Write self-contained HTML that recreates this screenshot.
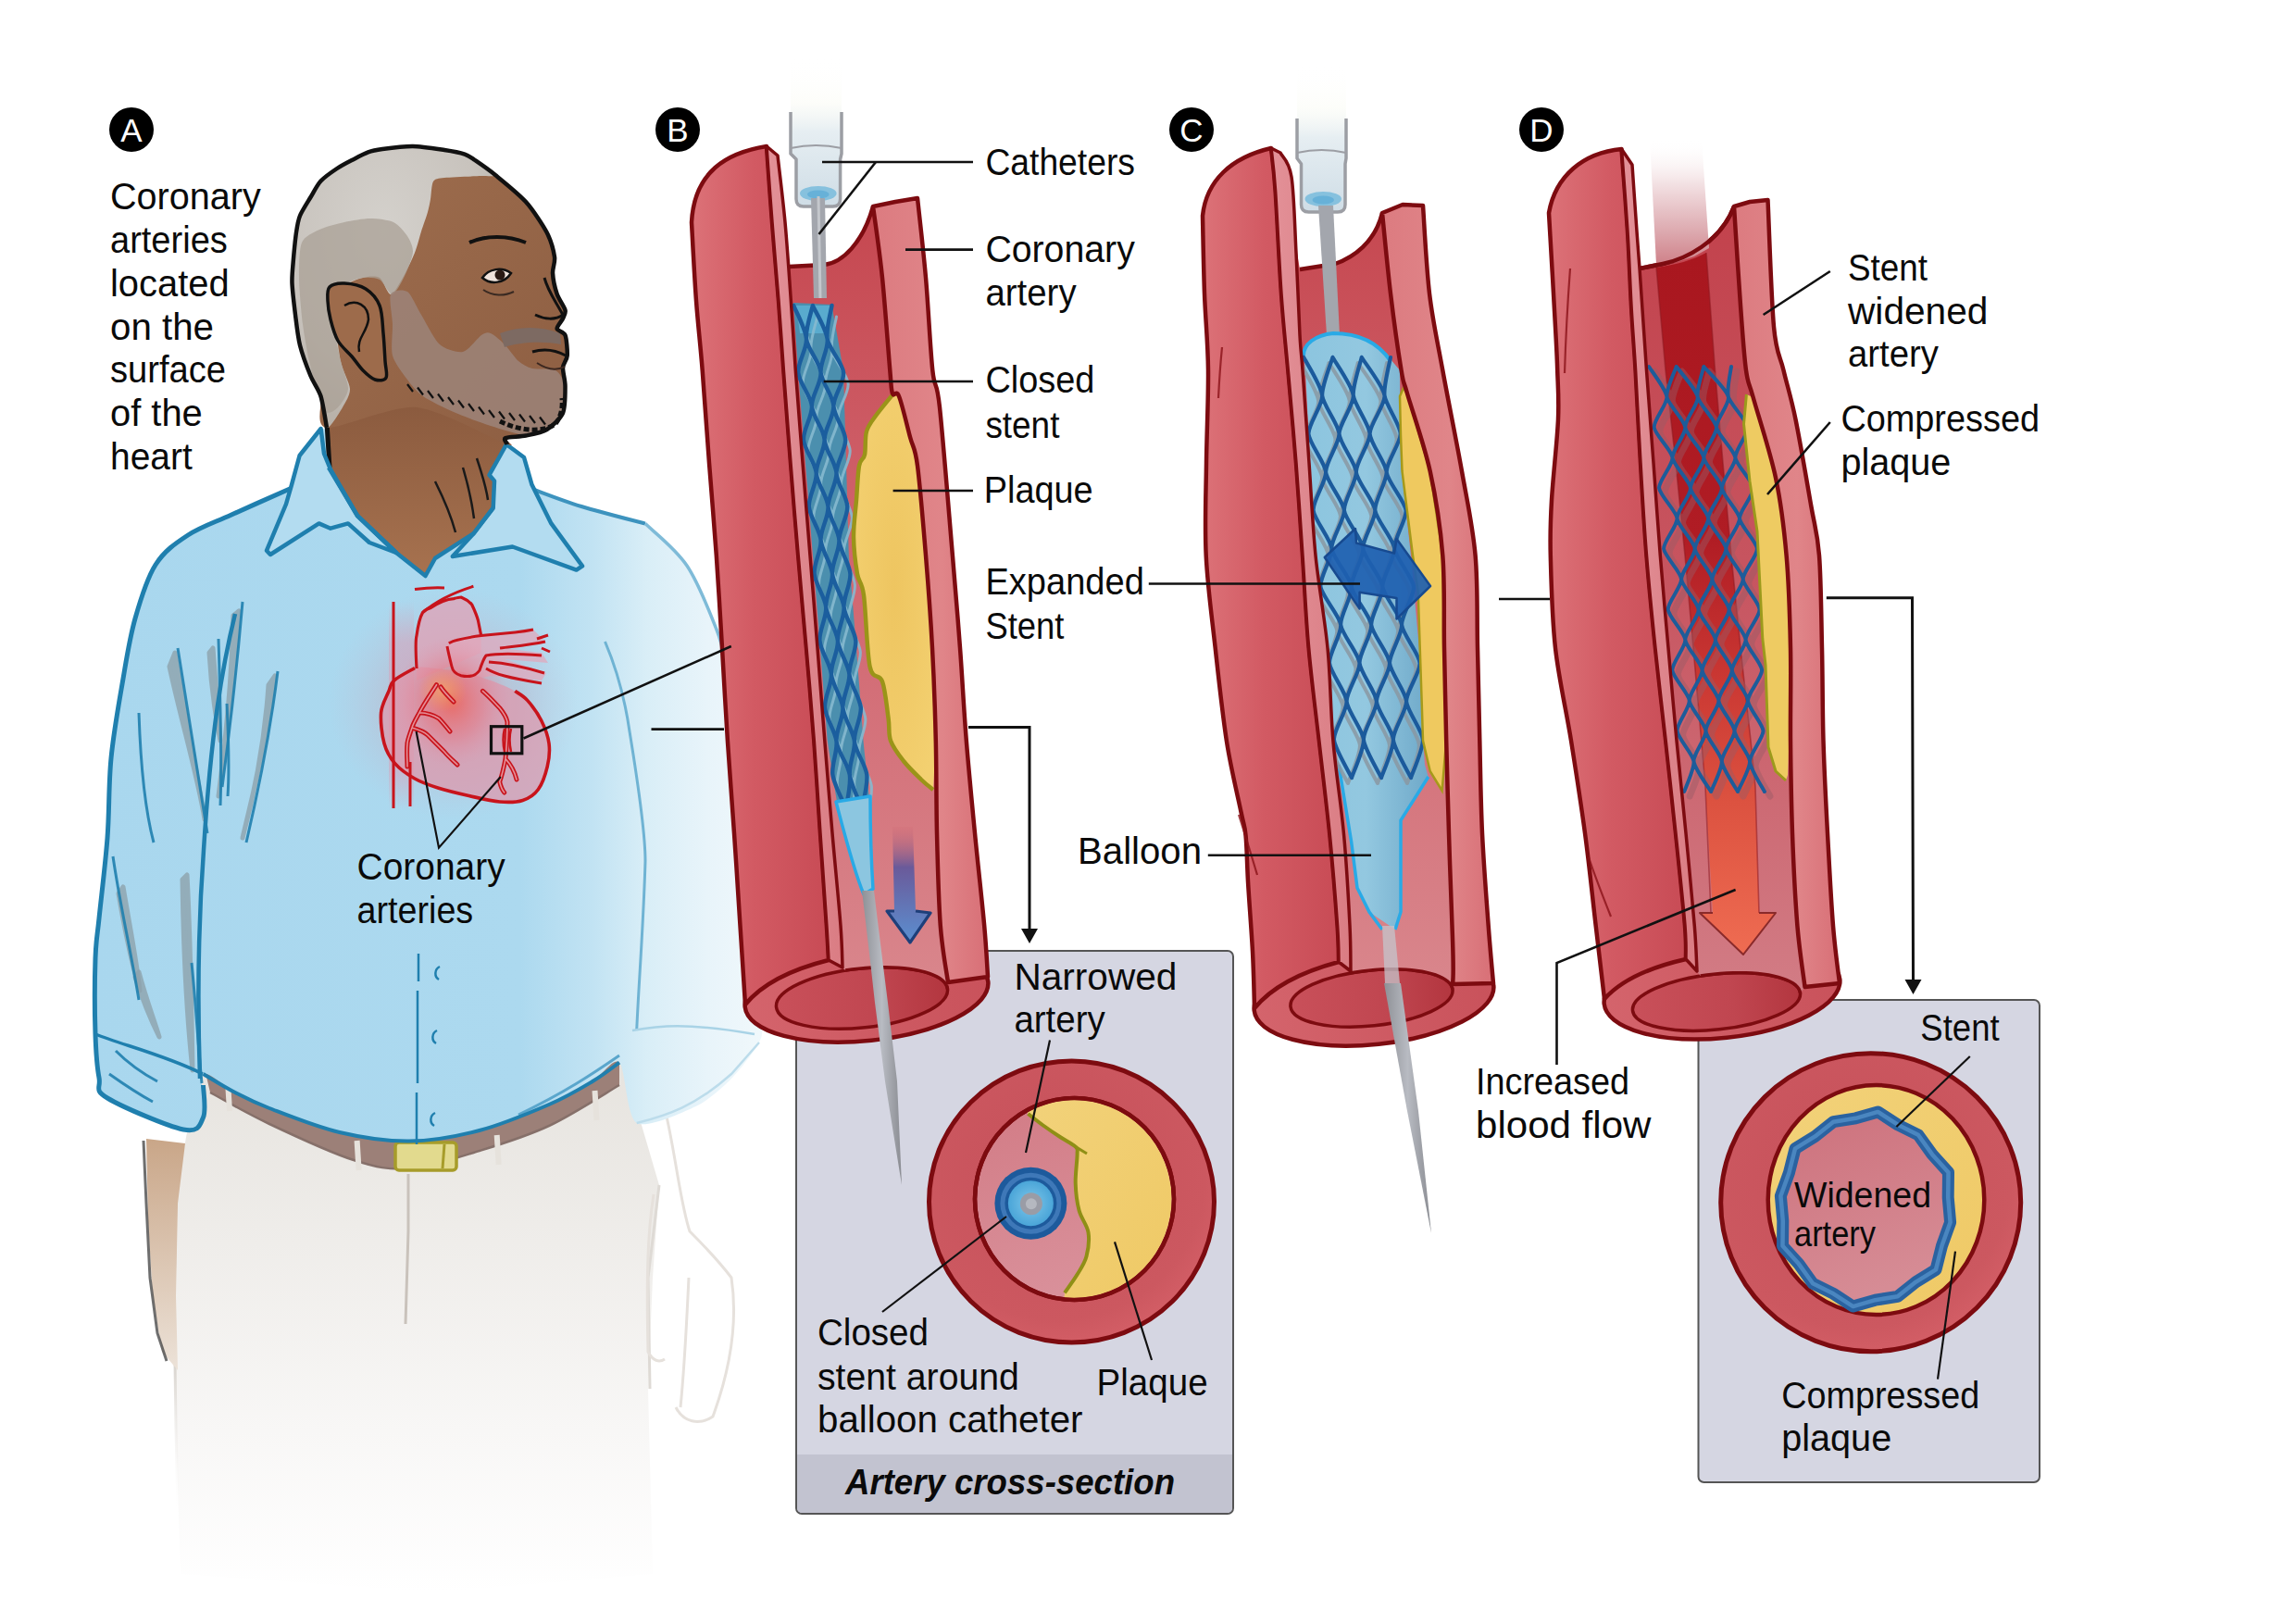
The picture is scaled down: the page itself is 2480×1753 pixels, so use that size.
<!DOCTYPE html>
<html><head><meta charset="utf-8"><style>
html,body{margin:0;padding:0;background:#fff;overflow:hidden;}
svg{display:block;}
</style></head><body>
<svg width="2480" height="1753" viewBox="0 0 2480 1753">
<defs>
<linearGradient id="gBand" x1="0" y1="0" x2="1" y2="0">
 <stop offset="0" stop-color="#dc7278"/><stop offset="0.45" stop-color="#d25a63"/><stop offset="1" stop-color="#c84b55"/>
</linearGradient>
<linearGradient id="gStrip" x1="0" y1="0" x2="1" y2="0">
 <stop offset="0" stop-color="#e39198"/><stop offset="1" stop-color="#da7c83"/>
</linearGradient>
<linearGradient id="gRight" x1="0" y1="0" x2="1" y2="0">
 <stop offset="0" stop-color="#dc7b80"/><stop offset="0.6" stop-color="#e08589"/><stop offset="1" stop-color="#d86f76"/>
</linearGradient>
<linearGradient id="gLumen" x1="0" y1="0" x2="0" y2="1">
 <stop offset="0" stop-color="#c4434b"/><stop offset="0.5" stop-color="#d16670"/><stop offset="1" stop-color="#d9868c"/>
</linearGradient>
<linearGradient id="gRing" x1="0" y1="0" x2="1" y2="0">
 <stop offset="0" stop-color="#d4646c"/><stop offset="1" stop-color="#c9525b"/>
</linearGradient>
<linearGradient id="gHole" x1="0" y1="0" x2="1" y2="0">
 <stop offset="0" stop-color="#c9505a"/><stop offset="0.6" stop-color="#c04650"/><stop offset="1" stop-color="#b3363f"/>
</linearGradient>
<linearGradient id="gLumenD" x1="0" y1="0" x2="0" y2="1">
 <stop offset="0" stop-color="#c2404a"/><stop offset="0.5" stop-color="#c75560"/><stop offset="1" stop-color="#d27c85"/>
</linearGradient>
<linearGradient id="gBandD" gradientUnits="userSpaceOnUse" x1="0" y1="280" x2="0" y2="1031">
 <stop offset="0" stop-color="#a9171f"/><stop offset="0.4" stop-color="#b01c24"/><stop offset="0.62" stop-color="#cc3a34"/><stop offset="0.78" stop-color="#dc5240"/><stop offset="1" stop-color="#ef6c52"/>
</linearGradient>
<linearGradient id="gArrowB" x1="0" y1="0" x2="0" y2="1">
 <stop offset="0" stop-color="#d06a74" stop-opacity="0.2"/><stop offset="0.35" stop-color="#6a5a9a"/><stop offset="1" stop-color="#5b8fd0"/>
</linearGradient>
<linearGradient id="gArrowD" x1="0" y1="0" x2="0" y2="1">
 <stop offset="0" stop-color="#d8473c"/><stop offset="1" stop-color="#ee6a50"/>
</linearGradient>
<linearGradient id="gWire" x1="0" y1="0" x2="1" y2="0">
 <stop offset="0" stop-color="#8e9096"/><stop offset="0.5" stop-color="#b8bbc2"/><stop offset="1" stop-color="#8a8c92"/>
</linearGradient>
<linearGradient id="gCath" x1="0" y1="0" x2="0" y2="1">
 <stop offset="0" stop-color="#ffffff" stop-opacity="0"/><stop offset="0.3" stop-color="#fbfcf6" stop-opacity="0.6"/><stop offset="0.5" stop-color="#e6eef2"/><stop offset="1" stop-color="#cfdde6"/>
</linearGradient>
<linearGradient id="gGhostD" x1="0" y1="0" x2="0" y2="1">
 <stop offset="0" stop-color="#ffffff" stop-opacity="0"/><stop offset="0.35" stop-color="#f3e2e4"/><stop offset="0.75" stop-color="#dca7ad"/><stop offset="1" stop-color="#cf8088"/>
</linearGradient>
<linearGradient id="gBalloon" x1="0" y1="0" x2="1" y2="0">
 <stop offset="0" stop-color="#8cc5df"/><stop offset="0.5" stop-color="#93c8e0"/><stop offset="1" stop-color="#6fa9c9"/>
</linearGradient>
<radialGradient id="gPlaque" cx="0.5" cy="0.5" r="0.6">
 <stop offset="0" stop-color="#eec560"/><stop offset="1" stop-color="#f3d070"/>
</radialGradient>

<radialGradient id="gXsWall" cx="0.45" cy="0.4" r="0.65">
 <stop offset="0" stop-color="#c6505a"/><stop offset="0.8" stop-color="#cc5860"/><stop offset="1" stop-color="#d66068"/>
</radialGradient>
<linearGradient id="gXsLumen" x1="0" y1="0" x2="0.3" y2="1">
 <stop offset="0" stop-color="#d27b85"/><stop offset="1" stop-color="#d9909a"/>
</linearGradient>
<linearGradient id="gXsLumenD" x1="0" y1="0" x2="0.3" y2="1">
 <stop offset="0" stop-color="#cd717c"/><stop offset="1" stop-color="#d68c95"/>
</linearGradient>
<linearGradient id="gXsPlaque" x1="0" y1="0" x2="1" y2="1">
 <stop offset="0" stop-color="#f2d27a"/><stop offset="1" stop-color="#efc965"/>
</linearGradient>
<radialGradient id="gXsCath" cx="0.5" cy="0.5" r="0.5">
 <stop offset="0" stop-color="#7fc7ea"/><stop offset="1" stop-color="#4aa5d8"/>
</radialGradient>

<linearGradient id="gShirt" gradientUnits="userSpaceOnUse" x1="99" y1="0" x2="822" y2="0">
 <stop offset="0" stop-color="#a9d7ee"/><stop offset="0.64" stop-color="#acd9ef"/><stop offset="0.75" stop-color="#c2e3f3"/><stop offset="0.83" stop-color="#d9eef7"/><stop offset="0.92" stop-color="#e8f4fa"/><stop offset="1" stop-color="#f0f8fb"/>
</linearGradient>
<linearGradient id="gPants" x1="0" y1="0" x2="0" y2="1">
 <stop offset="0" stop-color="#e6e3de"/><stop offset="0.35" stop-color="#efedea"/><stop offset="0.7" stop-color="#f8f7f6"/><stop offset="1" stop-color="#ffffff"/>
</linearGradient>
<linearGradient id="gPantsOL" x1="0" y1="0" x2="0" y2="1">
 <stop offset="0" stop-color="#b9b2aa"/><stop offset="0.5" stop-color="#d5d0ca"/><stop offset="1" stop-color="#ffffff" stop-opacity="0"/>
</linearGradient>
<linearGradient id="gSkin" x1="0" y1="0" x2="1" y2="1">
 <stop offset="0" stop-color="#a06f4f"/><stop offset="1" stop-color="#8d5e42"/>
</linearGradient>
<linearGradient id="gNeck" x1="0" y1="0" x2="0" y2="1">
 <stop offset="0" stop-color="#8a5a3e"/><stop offset="1" stop-color="#a7724f"/>
</linearGradient>
<radialGradient id="gHair" cx="0.45" cy="0.3" r="0.7">
 <stop offset="0" stop-color="#d4d1cc"/><stop offset="0.7" stop-color="#c8c3bd"/><stop offset="1" stop-color="#b9b2aa"/>
</radialGradient>
<radialGradient id="gHeartGlow" cx="0.5" cy="0.5" r="0.5">
 <stop offset="0" stop-color="#ee5a4e" stop-opacity="0.85"/><stop offset="0.55" stop-color="#e6707c" stop-opacity="0.45"/><stop offset="1" stop-color="#e090a8" stop-opacity="0"/>
</radialGradient>
<linearGradient id="gVein" x1="0" y1="0" x2="0" y2="1">
 <stop offset="0" stop-color="#d9a0b8" stop-opacity="0"/><stop offset="0.2" stop-color="#d9a0b8"/><stop offset="0.8" stop-color="#d9a0b8"/><stop offset="1" stop-color="#d9a0b8" stop-opacity="0"/>
</linearGradient>
<radialGradient id="gOrange" cx="0.5" cy="0.5" r="0.5">
 <stop offset="0" stop-color="#f4a868" stop-opacity="0.7"/><stop offset="1" stop-color="#f0a060" stop-opacity="0"/>
</radialGradient>
<linearGradient id="gRightFade" x1="0" y1="0" x2="1" y2="0">
 <stop offset="0" stop-color="#ffffff" stop-opacity="0"/><stop offset="1" stop-color="#ffffff" stop-opacity="0.75"/>
</linearGradient>
<linearGradient id="gHandL" x1="0" y1="0" x2="0" y2="1">
 <stop offset="0" stop-color="#c9a688"/><stop offset="1" stop-color="#ece2d8"/>
</linearGradient>
</defs>
<rect width="2480" height="1753" fill="#fff"/>
<path d="M215.0,1150.0 L190.0,1290.0 L188.0,1400.0 L190.0,1540.0 L195.0,1700.0 L470.0,1720.0 L705.0,1700.0 L700.0,1500.0 L705.0,1380.0 L712.0,1280.0 L690.0,1205.0 L668.0,1139.0 Z" fill="url(#gPants)"/>
<path d="M190,1290 L188,1400 L190,1540 L192,1640" fill="none" stroke="url(#gPantsOL)" stroke-width="3"/>
<path d="M712,1280 L700,1380 L702,1500" fill="none" stroke="#dedad5" stroke-width="3"/>
<path d="M441,1268 L441,1330 L438,1430" fill="none" stroke="#c9c2bb" stroke-width="3"/>
<path d="M720,1206 C730,1250 735,1300 745,1330 C760,1345 775,1360 790,1380 C796,1420 792,1470 770,1530 C755,1540 738,1536 730,1520 M706,1290 C700,1330 698,1370 700,1460 C705,1470 712,1472 718,1468 M744,1380 C742,1420 740,1470 735,1520" fill="none" stroke="#e6e1dc" stroke-width="3"/>
<path d="M158,1230 L200,1235 L192,1300 L190,1400 L192,1480 L175,1460 L165,1400 L160,1320 Z" fill="url(#gHandL)"/>
<path d="M155,1232 L158,1300 L162,1380 L170,1440 L180,1470" fill="none" stroke="#4a4a4a" stroke-width="3" opacity="0.8"/>
<path d="M220.0,1150.0 C231.8,1156.7 266.6,1179.0 291.0,1190.0 C315.4,1201.0 341.5,1210.0 366.7,1216.0 C391.9,1222.0 416.8,1226.2 442.0,1226.0 C467.2,1225.8 492.6,1221.5 517.8,1215.0 C543.0,1208.5 567.8,1199.5 593.0,1187.0 C618.2,1174.5 656.3,1147.8 669.0,1140.0 L669.0,1172.0 C656.3,1179.3 618.2,1204.2 593.0,1216.0 C567.8,1227.8 543.0,1235.3 517.8,1243.0 C492.6,1250.7 464.6,1260.3 442.0,1262.0 C419.4,1263.7 407.2,1261.0 382.0,1253.0 C356.8,1245.0 316.8,1226.2 291.0,1214.0 C265.2,1201.8 237.7,1185.7 227.0,1180.0 Z" fill="#9c8078"/>
<path d="M227.0,1180.0 C237.7,1185.7 265.2,1201.8 291.0,1214.0 C316.8,1226.2 356.8,1245.0 382.0,1253.0 C407.2,1261.0 419.4,1263.7 442.0,1262.0 C464.6,1260.3 492.6,1250.7 517.8,1243.0 C543.0,1235.3 567.8,1227.8 593.0,1216.0 C618.2,1204.2 656.3,1179.3 669.0,1172.0" fill="none" stroke="#86706a" stroke-width="2.5"/>
<path d="M246,1168 L248,1200" stroke="#e6e2dc" stroke-width="6"/>
<path d="M385.6,1232 L387.6,1264" stroke="#e6e2dc" stroke-width="6"/>
<path d="M536.7,1226 L538.7,1258" stroke="#e6e2dc" stroke-width="6"/>
<path d="M642.5,1178 L644.5,1210" stroke="#e6e2dc" stroke-width="6"/>
<rect x="427" y="1234" width="66" height="30" rx="4" fill="#e2da8e" stroke="#a79c2a" stroke-width="3.5"/>
<path d="M480,1236 L478,1262" stroke="#a79c2a" stroke-width="3"/>
<path d="M346.6,463.0 C343.5,466.9 328.1,483.3 323.6,492.0 C319.1,500.7 322.8,519.5 313.0,528.0 C303.2,536.5 264.7,549.3 250.0,556.0 C235.3,562.7 213.9,570.8 203.0,578.0 C192.1,585.2 175.6,598.0 168.0,610.0 C160.4,622.0 150.7,651.6 146.0,668.0 C141.3,684.4 136.5,712.9 133.0,733.0 C129.5,753.1 122.3,796.1 120.0,819.0 C117.7,841.9 117.7,881.9 116.0,905.0 C114.3,928.1 108.7,974.7 107.0,992.0 C105.3,1009.3 103.5,1018.3 103.0,1035.0 C102.5,1051.7 102.5,1099.8 103.0,1117.0 C103.5,1134.2 105.3,1154.8 107.0,1164.0 C108.7,1173.2 103.9,1178.5 116.0,1186.0 C128.1,1193.5 184.2,1217.2 198.0,1220.0 C211.8,1222.8 216.6,1215.0 219.5,1207.0 C222.4,1199.0 214.9,1163.6 219.5,1160.0 C224.1,1156.4 244.5,1175.1 254.0,1180.0 C263.5,1184.9 276.0,1191.3 291.0,1197.0 C306.0,1202.7 346.6,1218.3 366.7,1223.0 C386.8,1227.7 421.9,1232.9 442.0,1232.6 C462.1,1232.3 497.7,1226.3 517.8,1221.0 C537.9,1215.7 576.7,1200.1 593.0,1193.0 C609.3,1185.9 629.9,1174.1 640.0,1168.0 C650.1,1161.9 662.6,1141.6 669.0,1147.6 C675.4,1153.6 676.7,1206.7 687.7,1213.0 C698.7,1219.3 737.9,1201.4 751.5,1195.0 C765.1,1188.6 780.9,1174.2 790.0,1165.0 C799.1,1155.8 815.7,1134.7 820.0,1126.0 C824.3,1117.3 823.1,1116.8 822.0,1100.0 C820.9,1083.2 814.9,1029.3 812.0,1000.0 C809.1,970.7 802.7,908.0 800.0,880.0 C797.3,852.0 794.0,811.3 792.0,790.0 C790.0,768.7 787.4,734.7 785.0,720.0 C782.6,705.3 779.7,694.5 774.0,680.0 C768.3,665.5 752.3,626.3 742.0,611.0 C731.7,595.7 712.2,574.1 697.0,565.6 C681.8,557.1 644.3,552.0 628.0,547.0 C611.7,542.0 582.8,535.1 574.5,528.0 C566.2,520.9 569.3,500.2 566.0,494.0 C562.7,487.8 551.6,483.4 549.4,481.8 Z" fill="url(#gShirt)"/>
<path d="M189,705 C198,760 212,830 221,885 C214,840 196,780 183,720 Z" fill="#8ea3ad" stroke="#8ea3ad" stroke-width="5" stroke-linejoin="round" opacity="0.8"/>
<path d="M258,660 C254,720 245,800 236,860 C244,800 250,740 252,665 Z" fill="#8ea3ad" stroke="#8ea3ad" stroke-width="5" stroke-linejoin="round" opacity="0.8"/>
<path d="M297,730 C290,790 275,850 262,905 C274,860 286,800 290,740 Z" fill="#8ea3ad" stroke="#8ea3ad" stroke-width="5" stroke-linejoin="round" opacity="0.8"/>
<path d="M133,958 C140,1000 148,1040 151,1070 C142,1040 134,1000 128,965 Z" fill="#8ea3ad" stroke="#8ea3ad" stroke-width="5" stroke-linejoin="round" opacity="0.8"/>
<path d="M202,945 C206,1020 207,1100 208,1156 C202,1100 198,1020 197,950 Z" fill="#8ea3ad" stroke="#8ea3ad" stroke-width="5" stroke-linejoin="round" opacity="0.8"/>
<path d="M150,1050 C158,1080 166,1100 172,1120 C162,1100 154,1080 146,1055 Z" fill="#8ea3ad" stroke="#8ea3ad" stroke-width="5" stroke-linejoin="round" opacity="0.8"/>
<path d="M230,700 C233,740 236,770 238,800 C232,770 228,740 226,705 Z" fill="#8ea3ad" stroke="#8ea3ad" stroke-width="5" stroke-linejoin="round" opacity="0.8"/>
<path d="M192,700 C205,780 215,840 224,900" fill="none" stroke="#1f7fae" stroke-width="3" opacity="0.9"/>
<path d="M150,770 C152,830 158,880 166,910" fill="none" stroke="#1f7fae" stroke-width="3" opacity="0.9"/>
<path d="M236,690 C238,760 240,820 238,870" fill="none" stroke="#1f7fae" stroke-width="3" opacity="0.9"/>
<path d="M262,650 C256,720 248,790 240,850" fill="none" stroke="#1f7fae" stroke-width="3" opacity="0.9"/>
<path d="M300,725 C292,790 280,850 266,910" fill="none" stroke="#1f7fae" stroke-width="3" opacity="0.9"/>
<path d="M122,925 C130,980 140,1020 150,1080" fill="none" stroke="#1f7fae" stroke-width="3" opacity="0.9"/>
<path d="M207,1040 C212,1090 214,1130 218,1170" fill="none" stroke="#1f7fae" stroke-width="3" opacity="0.9"/>
<path d="M125,1135 C140,1150 155,1160 170,1168" fill="none" stroke="#1f7fae" stroke-width="3" opacity="0.9"/>
<path d="M118,1160 C135,1172 150,1182 165,1190" fill="none" stroke="#1f7fae" stroke-width="3" opacity="0.9"/>
<path d="M245,760 C247,800 248,830 246,860" fill="none" stroke="#1f7fae" stroke-width="3" opacity="0.9"/>
<path d="M254,663 C240,720 228,790 220,918 C214,1000 213,1080 216,1165" fill="none" stroke="#1f7fae" stroke-width="4.5"/>
<path d="M103,1117 C130,1128 180,1140 219,1160" fill="none" stroke="#1f7fae" stroke-width="3.5"/>
<path d="M653.5,693 C665,720 674,748 680,790 C688,839 697,900 697,930 C695,1000 690,1060 687.7,1113" fill="none" stroke="#6fb3d3" stroke-width="3"/>
<path d="M683,1113 C710,1108 742,1104 815,1117" fill="none" stroke="#a9d3e6" stroke-width="2.5"/>
<path d="M687.7,1213 C720,1205 751,1195 790,1160 L820,1126" fill="none" stroke="#bcdceb" stroke-width="2.5"/>
<path d="M560,1204 C610,1180 640,1160 669,1140" fill="none" stroke="#5aa6cc" stroke-width="3"/>
<path d="M452,1030 L452,1060 M451,1070 L451,1170 M450,1180 L450,1236" fill="none" stroke="#1f7fae" stroke-width="2.5"/>
<path d="M475,1044 C469,1047 469,1055 474,1058" fill="none" stroke="#1f7fae" stroke-width="2.5"/>
<path d="M472,1113 C466,1116 466,1124 471,1127" fill="none" stroke="#1f7fae" stroke-width="2.5"/>
<path d="M470,1202 C464,1205 464,1213 469,1216" fill="none" stroke="#1f7fae" stroke-width="2.5"/>
<path d="M313.0,528.0 C302.5,532.7 268.3,547.7 250.0,556.0 C231.7,564.3 216.7,569.0 203.0,578.0 C189.3,587.0 177.5,595.0 168.0,610.0 C158.5,625.0 151.8,647.5 146.0,668.0 C140.2,688.5 137.3,707.8 133.0,733.0 C128.7,758.2 122.8,790.3 120.0,819.0 C117.2,847.7 118.2,876.2 116.0,905.0 C113.8,933.8 109.2,970.3 107.0,992.0 C104.8,1013.7 103.7,1014.2 103.0,1035.0 C102.3,1055.8 102.3,1095.5 103.0,1117.0 C103.7,1138.5 104.8,1152.5 107.0,1164.0 C109.2,1175.5 100.8,1176.7 116.0,1186.0 C131.2,1195.3 180.8,1216.5 198.0,1220.0 C215.2,1223.5 215.9,1215.0 219.5,1207.0 C223.1,1199.0 219.5,1177.8 219.5,1172.0" fill="none" stroke="#1f7fae" stroke-width="5" stroke-linejoin="round"/>
<path d="M219.5,1160.0 C225.2,1163.3 242.1,1173.8 254.0,1180.0 C265.9,1186.2 272.2,1189.8 291.0,1197.0 C309.8,1204.2 341.5,1217.1 366.7,1223.0 C391.9,1228.9 416.8,1232.9 442.0,1232.6 C467.2,1232.3 492.6,1227.6 517.8,1221.0 C543.0,1214.4 572.6,1201.8 593.0,1193.0 C613.4,1184.2 627.3,1175.6 640.0,1168.0 C652.7,1160.4 664.2,1151.0 669.0,1147.6" fill="none" stroke="#1f7fae" stroke-width="4"/>
<path d="M574.5,528.0 C583.4,531.2 607.6,540.7 628.0,547.0 C648.4,553.3 685.5,562.5 697.0,565.6" fill="none" stroke="#3d93be" stroke-width="4"/>
<path d="M697.0,565.6 C704.5,573.2 729.2,591.9 742.0,611.0 C754.8,630.1 766.8,661.8 774.0,680.0 C781.2,698.2 783.2,713.3 785.0,720.0" fill="none" stroke="#7fbbd8" stroke-width="3.5"/>
<path d="M352.0,440.0 L355.0,505.0 L386.0,557.0 L428.0,597.0 L459.5,622.0 L470.0,603.0 L511.8,576.0 L532.7,548.7 L532.7,519.4 L547.0,480.0 L548.0,470.0 L450.0,430.0 Z" fill="url(#gNeck)"/>
<path d="M470,520 C480,540 488,560 492,575 M500,505 C506,525 510,545 512,560 M515,495 C520,510 525,525 527,540" fill="none" stroke="#1a1a1a" stroke-width="2.5"/>
<path d="M352,440 L356,505" stroke="#111" stroke-width="5"/>
<path d="M346.6,463.0 L323.6,492.0 L315.0,523.6 L309.0,544.5 L288.0,594.7 L292.0,599.0 L344.5,565.4 L357.0,570.7 L376.0,565.4 L399.0,586.0 L428.0,597.0 L386.0,557.0 L357.0,507.0 L350.0,490.0 Z" fill="#b3dcf0" stroke="#1f7fae" stroke-width="4.5" stroke-linejoin="round"/>
<path d="M547.0,480.0 L549.4,481.8 L566.0,494.0 L574.5,523.6 L595.4,565.4 L629.0,611.4 L622.6,615.6 L553.6,590.5 L488.8,601.0 L511.8,576.0 L532.7,548.7 L534.0,519.4 L528.5,513.0 Z" fill="#b3dcf0" stroke="#1f7fae" stroke-width="4.5" stroke-linejoin="round"/>
<path d="M355,505 L386,557 L428,597 L459.5,622 L470,603 L511.8,576 L532.7,548.7" fill="none" stroke="#1f7fae" stroke-width="4.5" stroke-linejoin="round"/>
<path d="M353.0,462.0 C339.2,460.4 348.8,435.5 346.5,428.0 C344.2,420.5 338.5,413.3 335.5,406.0 C332.5,398.7 326.2,381.8 324.0,373.0 C321.8,364.2 320.1,348.9 319.0,340.0 C317.9,331.1 315.8,313.5 315.5,306.0 C315.2,298.5 316.0,291.3 316.6,284.0 C317.2,276.7 319.0,257.8 320.0,251.0 C321.0,244.2 321.9,238.1 324.0,233.0 C326.1,227.9 332.5,218.0 335.5,213.0 C338.5,208.0 342.7,199.6 346.5,195.5 C350.3,191.4 359.5,185.0 364.0,182.0 C368.5,179.0 375.5,175.3 380.0,173.0 C384.5,170.7 393.2,166.0 397.6,164.4 C402.0,162.8 406.5,161.9 413.0,161.0 C419.5,160.1 437.1,157.9 446.0,158.0 C454.9,158.1 472.5,160.9 480.0,162.0 C487.5,163.1 497.6,165.1 502.0,166.6 C506.4,168.1 508.6,170.0 513.0,173.0 C517.4,176.0 527.7,183.0 535.0,189.0 C542.3,195.0 560.6,209.7 568.0,218.0 C575.4,226.3 586.5,243.1 590.6,251.0 C594.7,258.9 598.1,271.6 599.0,277.5 C599.9,283.4 596.7,289.7 597.0,295.0 C597.3,300.3 599.8,312.2 601.6,317.5 C603.4,322.8 609.6,331.5 610.5,335.0 C611.4,338.5 609.2,341.3 608.0,344.0 C606.8,346.7 601.3,352.6 601.6,355.0 C601.9,357.4 609.0,358.1 610.5,362.0 C612.0,365.9 613.0,379.3 612.7,384.0 C612.4,388.7 608.3,392.6 608.0,397.0 C607.7,401.4 610.5,410.5 610.5,417.0 C610.5,423.5 610.7,439.7 608.0,446.0 C605.3,452.3 595.9,460.7 590.6,464.0 C585.3,467.3 573.9,469.3 568.0,470.5 C562.1,471.7 548.7,471.7 546.0,473.0 C543.3,474.3 560.8,484.4 548.0,480.0 C535.2,475.6 476.0,442.4 450.0,440.0 C424.0,437.6 366.8,463.6 353.0,462.0 Z" fill="url(#gSkin)"/>
<path d="M353.0,462.0 C349.9,460.4 348.8,435.5 346.5,428.0 C344.2,420.5 338.5,413.3 335.5,406.0 C332.5,398.7 326.2,381.8 324.0,373.0 C321.8,364.2 320.1,348.9 319.0,340.0 C317.9,331.1 315.8,313.5 315.5,306.0 C315.2,298.5 316.0,291.3 316.6,284.0 C317.2,276.7 319.0,257.8 320.0,251.0 C321.0,244.2 321.9,238.1 324.0,233.0 C326.1,227.9 332.5,218.0 335.5,213.0 C338.5,208.0 342.7,199.6 346.5,195.5 C350.3,191.4 359.5,185.0 364.0,182.0 C368.5,179.0 375.5,175.3 380.0,173.0 C384.5,170.7 393.2,166.0 397.6,164.4 C402.0,162.8 406.5,161.9 413.0,161.0 C419.5,160.1 437.1,157.9 446.0,158.0 C454.9,158.1 472.5,160.9 480.0,162.0 C487.5,163.1 497.6,165.1 502.0,166.6 C506.4,168.1 508.6,170.0 513.0,173.0 C517.4,176.0 534.1,186.7 535.0,189.0 C535.9,191.3 527.3,189.6 520.0,190.0 C512.7,190.4 486.9,191.2 480.0,192.0 C473.1,192.8 470.0,192.9 468.0,196.0 C466.0,199.1 465.8,210.6 465.0,215.0 C464.2,219.4 463.3,224.3 462.0,229.0 C460.7,233.7 456.9,244.1 455.0,250.0 C453.1,255.9 450.7,266.3 448.0,273.0 C445.3,279.7 438.5,294.0 435.0,300.0 C431.5,306.0 425.3,318.0 422.0,318.0 C418.7,318.0 414.0,302.4 410.0,300.0 C406.0,297.6 397.1,298.7 392.0,300.0 C386.9,301.3 376.0,304.7 372.0,310.0 C368.0,315.3 362.5,329.3 362.0,340.0 C361.5,350.7 365.9,379.3 368.0,390.0 C370.1,400.7 377.7,413.3 378.0,420.0 C378.3,426.7 373.3,434.4 370.0,440.0 C366.7,445.6 356.1,463.6 353.0,462.0 Z" fill="url(#gHair)"/>
<path d="M326.0,262.0 C328.9,255.1 338.9,250.9 345.0,248.0 C351.1,245.1 364.7,241.6 372.0,240.0 C379.3,238.4 392.9,236.0 400.0,236.0 C407.1,236.0 419.7,237.5 425.0,240.0 C430.3,242.5 437.2,250.7 440.0,255.0 C442.8,259.3 446.3,266.5 446.0,272.0 C445.7,277.5 440.9,289.9 438.0,296.0 C435.1,302.1 427.7,317.2 424.0,318.0 C420.3,318.8 414.3,304.4 410.0,302.0 C405.7,299.6 397.1,299.2 392.0,300.0 C386.9,300.8 376.3,304.0 372.0,308.0 C367.7,312.0 361.3,323.1 360.0,330.0 C358.7,336.9 360.9,352.0 362.0,360.0 C363.1,368.0 366.1,382.0 368.0,390.0 C369.9,398.0 376.4,413.3 376.0,420.0 C375.6,426.7 368.2,436.7 365.0,440.0 C361.8,443.3 355.1,447.7 352.0,445.0 C348.9,442.3 344.4,427.3 342.0,420.0 C339.6,412.7 336.0,399.3 334.0,390.0 C332.0,380.7 328.5,362.0 327.0,350.0 C325.5,338.0 323.1,311.7 323.0,300.0 C322.9,288.3 323.1,268.9 326.0,262.0 Z" fill="#a9a096" opacity="0.75"/>
<path d="M422.0,318.0 C419.9,322.7 423.7,341.2 424.0,350.0 C424.3,358.8 421.9,376.0 424.0,384.0 C426.1,392.0 435.6,404.1 440.0,410.0 C444.4,415.9 450.3,423.3 457.0,428.0 C463.7,432.7 480.3,440.7 490.0,445.0 C499.7,449.3 519.6,456.7 530.0,460.0 C540.4,463.3 560.0,469.5 568.0,470.0 C576.0,470.5 584.7,467.2 590.0,464.0 C595.3,460.8 605.3,452.3 608.0,446.0 C610.7,439.7 611.1,423.1 610.0,417.0 C608.9,410.9 604.7,402.5 600.0,400.0 C595.3,397.5 580.3,399.3 575.0,398.0 C569.7,396.7 564.0,393.5 560.0,390.0 C556.0,386.5 549.0,376.0 545.0,372.0 C541.0,368.0 533.3,361.3 530.0,360.0 C526.7,358.7 524.0,359.3 520.0,362.0 C516.0,364.7 506.0,378.7 500.0,380.0 C494.0,381.3 481.0,377.3 475.0,372.0 C469.0,366.7 459.7,347.6 455.0,340.0 C450.3,332.4 444.4,317.9 440.0,315.0 C435.6,312.1 424.1,313.3 422.0,318.0 Z" fill="#9c8479" opacity="0.85"/>
<path d="M540,360 C560,352 585,352 605,360 L606,372 C585,368 560,370 545,375 Z" fill="#7d6a62"/>
<path d="M353.0,462.0 C352.1,457.5 348.8,435.5 346.5,428.0 C344.2,420.5 338.5,413.3 335.5,406.0 C332.5,398.7 326.2,381.8 324.0,373.0 C321.8,364.2 320.1,348.9 319.0,340.0 C317.9,331.1 315.8,313.5 315.5,306.0 C315.2,298.5 316.0,291.3 316.6,284.0 C317.2,276.7 319.0,257.8 320.0,251.0 C321.0,244.2 321.9,238.1 324.0,233.0 C326.1,227.9 332.5,218.0 335.5,213.0 C338.5,208.0 342.7,199.6 346.5,195.5 C350.3,191.4 359.5,185.0 364.0,182.0 C368.5,179.0 375.5,175.3 380.0,173.0 C384.5,170.7 393.2,166.0 397.6,164.4 C402.0,162.8 406.5,161.9 413.0,161.0 C419.5,160.1 437.1,157.9 446.0,158.0 C454.9,158.1 472.5,160.9 480.0,162.0 C487.5,163.1 497.6,165.1 502.0,166.6 C506.4,168.1 508.6,170.0 513.0,173.0 C517.4,176.0 527.7,183.0 535.0,189.0 C542.3,195.0 560.6,209.7 568.0,218.0 C575.4,226.3 586.5,243.1 590.6,251.0 C594.7,258.9 598.1,271.6 599.0,277.5 C599.9,283.4 596.7,289.7 597.0,295.0 C597.3,300.3 599.8,312.2 601.6,317.5 C603.4,322.8 609.6,331.5 610.5,335.0 C611.4,338.5 609.2,341.3 608.0,344.0 C606.8,346.7 601.3,352.6 601.6,355.0 C601.9,357.4 609.0,358.1 610.5,362.0 C612.0,365.9 613.0,379.3 612.7,384.0 C612.4,388.7 608.3,392.6 608.0,397.0 C607.7,401.4 610.5,410.5 610.5,417.0 C610.5,423.5 610.7,439.7 608.0,446.0 C605.3,452.3 595.9,460.7 590.6,464.0 C585.3,467.3 573.9,469.3 568.0,470.5 C562.1,471.7 548.7,471.7 546.0,473.0 C543.3,474.3 547.7,479.1 548.0,480.0" fill="none" stroke="#111" stroke-width="4.5"/>
<path d="M356.0,310.0 C359.0,306.8 365.5,305.7 372.0,306.0 C378.5,306.3 388.7,308.0 395.0,312.0 C401.3,316.0 406.8,322.0 410.0,330.0 C413.2,338.0 413.0,350.0 414.0,360.0 C415.0,370.0 415.5,382.0 416.0,390.0 C416.5,398.0 418.8,404.7 417.0,408.0 C415.2,411.3 409.2,411.3 405.0,410.0 C400.8,408.7 396.2,404.2 392.0,400.0 C387.8,395.8 384.5,390.3 380.0,385.0 C375.5,379.7 368.8,374.7 365.0,368.0 C361.2,361.3 358.8,352.2 357.0,345.0 C355.2,337.8 354.2,330.8 354.0,325.0 C353.8,319.2 353.0,313.2 356.0,310.0 Z" fill="#9d6b4b" stroke="#111" stroke-width="3.5"/>
<path d="M372,330 C385,322 398,330 398,345 C396,360 385,365 388,380" fill="none" stroke="#111" stroke-width="2.5"/>
<path d="M507,262 C525,254 548,254 568,262" fill="none" stroke="#111" stroke-width="4"/>
<path d="M521,300 C528,290 542,288 552,295 C545,306 530,308 521,300 Z" fill="#efe3dc" stroke="#111" stroke-width="2.5"/>
<circle cx="540" cy="297" r="5.5" fill="#2a1a14"/>
<path d="M522,313 C532,320 545,320 555,315" fill="none" stroke="#3a2a22" stroke-width="2"/>
<path d="M588,300 C592,315 600,325 608,340 C600,346 588,345 578,340" fill="none" stroke="#111" stroke-width="3"/>
<path d="M575,380 C588,376 600,378 611,384" fill="none" stroke="#111" stroke-width="3"/>
<path d="M580,392 C592,400 602,400 610,396" fill="none" stroke="#3b2720" stroke-width="2"/>
<path d="M440,415.0 l6,8" stroke="#111" stroke-width="2.2"/>
<path d="M451,418.5 l6,8" stroke="#111" stroke-width="2.2"/>
<path d="M462,422.0 l6,8" stroke="#111" stroke-width="2.2"/>
<path d="M473,425.5 l6,8" stroke="#111" stroke-width="2.2"/>
<path d="M484,429.0 l6,8" stroke="#111" stroke-width="2.2"/>
<path d="M495,432.5 l6,8" stroke="#111" stroke-width="2.2"/>
<path d="M506,436.0 l6,8" stroke="#111" stroke-width="2.2"/>
<path d="M517,439.5 l6,8" stroke="#111" stroke-width="2.2"/>
<path d="M528,443.0 l6,8" stroke="#111" stroke-width="2.2"/>
<path d="M539,444.5 l6,8" stroke="#111" stroke-width="2.2"/>
<path d="M550,446.0 l6,8" stroke="#111" stroke-width="2.2"/>
<path d="M561,447.5 l6,8" stroke="#111" stroke-width="2.2"/>
<path d="M572,449.0 l6,8" stroke="#111" stroke-width="2.2"/>
<path d="M583,450.5 l6,8" stroke="#111" stroke-width="2.2"/>
<path d="M540,455 C560,465 585,468 600,458 C606,450 608,440 607,430" fill="none" stroke="#111" stroke-width="5" stroke-dasharray="6 3"/>
<ellipse cx="490" cy="760" rx="135" ry="125" fill="url(#gHeartGlow)" opacity="0.35"/>
<path d="M420,650 L447,650 L447,875 L420,875 Z" fill="url(#gVein)" opacity="0.5"/>
<path d="M450,722 C449,705 449,690 450,686.5 C452,672 454,666 456.5,661.6 C460,658 462,657 465,656.6 C475,650 483,647 490,646.6 C494,645.5 496,645 498,645 C503,647 507,650 509.7,653 C513,660 515,665 516.4,670 C518,678 519,683 519.7,686.5 L519.7,705 L450,735 Z" fill="#e0a2b6" fill-opacity="0.75"/>
<path d="M484.8,694.8 C488,693 490,692 493,691.5 C503,689 512,687.5 519.7,686.5 C535,685 546,684 556.3,683 C565,682 571,681 576,680 L589,693 L540,700 L585,705 L592,716 L545,712 L590,727 L585,735 L530,730 C520,733 508,732 498,729.8 C492,728 489,725 488,720 C486,712 484,704 483,698 Z" fill="#e0a8bc" fill-opacity="0.75"/>
<path d="M425.8,734.8 C430.5,730.6 440.6,723.6 448.0,721.5 C455.4,719.4 461.3,721.2 470.0,722.0 C478.7,722.8 490.0,723.8 500.0,726.0 C510.0,728.2 520.6,731.6 530.0,735.0 C539.4,738.4 549.7,742.8 556.3,746.4 C562.9,750.0 564.9,751.1 569.6,756.4 C574.3,761.7 580.7,770.2 584.6,778.0 C588.5,785.8 591.9,794.7 593.0,803.0 C594.1,811.3 593.2,819.7 591.2,828.0 C589.2,836.3 585.7,846.7 581.3,852.8 C576.9,858.9 571.5,862.3 564.6,864.5 C557.7,866.7 549.4,866.8 539.7,866.0 C530.0,865.2 517.5,862.0 506.4,859.5 C495.3,857.0 482.7,854.1 473.0,851.0 C463.3,847.9 455.7,845.4 448.0,841.0 C440.3,836.6 432.1,830.9 426.6,824.6 C421.1,818.3 417.5,812.1 415.0,803.0 C412.5,793.9 410.8,779.1 411.6,769.7 C412.4,760.3 417.6,752.2 420.0,746.4 C422.4,740.6 421.1,738.9 425.8,734.8 Z" fill="#e096aa" fill-opacity="0.7"/>
<ellipse cx="488" cy="758" rx="62" ry="70" fill="url(#gHeartGlow)" opacity="0.9"/>
<ellipse cx="478" cy="745" rx="26" ry="24" fill="url(#gOrange)"/>
<path d="M556.3,746.4 C558.5,748.1 564.9,751.1 569.6,756.4 C574.3,761.7 580.7,770.2 584.6,778.0 C588.5,785.8 591.9,794.7 593.0,803.0 C594.1,811.3 593.2,819.7 591.2,828.0 C589.2,836.3 585.7,846.7 581.3,852.8 C576.9,858.9 571.5,862.3 564.6,864.5 C557.7,866.7 549.4,866.8 539.7,866.0 C530.0,865.2 517.5,862.0 506.4,859.5 C495.3,857.0 482.7,854.1 473.0,851.0 C463.3,847.9 455.7,845.4 448.0,841.0 C440.3,836.6 432.1,830.9 426.6,824.6 C421.1,818.3 417.5,812.1 415.0,803.0 C412.5,793.9 410.8,779.1 411.6,769.7 C412.4,760.3 417.6,752.2 420.0,746.4 C422.4,740.6 421.1,738.9 425.8,734.8 C430.5,730.6 444.3,723.7 448.0,721.5" fill="none" stroke="#c8141c" stroke-width="3.6"/>
<path d="M450,722 C449,705 449,690 450,686.5 C452,672 454,666 456.5,661.6 C460,658 462,657 465,656.6 C475,650 483,647 490,646.6 C494,645.5 496,645 498,645 C503,647 507,650 509.7,653 C513,660 515,665 516.4,670 C518,678 519,683 519.7,686.5" fill="none" stroke="#c8141c" stroke-width="3.2"/>
<path d="M484.8,694.8 C488,693 490,692 493,691.5 C503,689 512,687.5 519.7,686.5 C535,685 546,684 556.3,683 C565,682 571,681 576,680" fill="none" stroke="#c8141c" stroke-width="3"/>
<path d="M483,698 C484,704 486,712 488,720 C489,725 492,728 498,729.8 C508,732 514,730 518,724 C520,718 522,712 525,708 C540,705 560,706 585,708 M528,715 C545,716 565,720 588,727 M525,722 C535,728 548,732 585,738 M540,700 C555,698 570,697 589,693 M580,690 L592,686 M585,700 L594,704" fill="none" stroke="#c8141c" stroke-width="3"/>
<path d="M425,650 L425,873 M443,823 L443,871 M448,636.6 C460,635 470,634.5 480,635 M456.5,661.6 C470,650 490,640 511.4,633.3" fill="none" stroke="#c8141c" stroke-width="3"/>
<path d="M471.5,739.7 C465,750 458,760 453,769.7 C449,777 446,782 445,786 C442,795 440,800 440,803 C439,812 440,820 440,828 M445,786 C452,788 458,790 462,794 C468,800 474,806 480,812 C485,818 490,822 494,826 M453,769.7 C460,770 468,772 474,776 C478,780 482,785 486,790 M476,742 C480,748 484,752 490,758 M521.4,746.4 C530,754 535,760 539.7,764.7 C544,770 547,775 548,779.7 C548,795 547,808 546,819.6 C544,830 542,838 539.7,844.5 M546,819.6 C552,826 556,834 558,842 M539.7,844.5 C541,850 543,854 544.7,856" fill="none" stroke="#c8141c" stroke-width="5" stroke-linecap="round"/>
<path d="M471.5,739.7 C465,750 458,760 453,769.7 C449,777 446,782 445,786 C442,795 440,800 440,803 C439,812 440,820 440,828 M445,786 C452,788 458,790 462,794 C468,800 474,806 480,812 C485,818 490,822 494,826 M453,769.7 C460,770 468,772 474,776 C478,780 482,785 486,790 M476,742 C480,748 484,752 490,758 M521.4,746.4 C530,754 535,760 539.7,764.7 C544,770 547,775 548,779.7 C548,795 547,808 546,819.6 C544,830 542,838 539.7,844.5 M546,819.6 C552,826 556,834 558,842 M539.7,844.5 C541,850 543,854 544.7,856" fill="none" stroke="#e58f98" stroke-width="1.6" stroke-linecap="round"/>
<rect x="530.5" y="784.7" width="33.3" height="29.1" fill="none" stroke="#111" stroke-width="3.2"/>
<path d="M545,787 C543,795 543,803 545,812 M552,787 C550,795 550,803 552,812" fill="none" stroke="#c8141c" stroke-width="2.5"/>
<rect x="860" y="1027" width="472" height="608" rx="6" fill="#d5d6e2" stroke="#555" stroke-width="2"/>
<path d="M861,1571 L1331,1571 L1331,1628 Q1331,1634 1325,1634 L867,1634 Q861,1634 861,1628 Z" fill="#c2c3d0"/>
<rect x="1834.5" y="1080" width="368.5" height="521" rx="6" fill="#d5d6e2" stroke="#555" stroke-width="2"/>
<ellipse cx="936" cy="1074" rx="132" ry="50" transform="rotate(-6 936 1074)" fill="url(#gRing)" stroke="#7d0b10" stroke-width="4.5"/>
<ellipse cx="931" cy="1078" rx="93" ry="32" transform="rotate(-6 931 1078)" fill="url(#gHole)" stroke="#7d0b10" stroke-width="3.5"/>
<path d="M852,288 L890,286 C910,284 932,262 943,223 C944.7,235.8 950.0,270.5 953.0,300.0 C956.0,329.5 959.5,379.2 961.3,400.0 C963.1,420.8 962.4,420.3 964.0,425.0 C965.6,429.7 967.8,420.2 971.0,428.0 C974.2,435.8 979.7,459.5 983.0,472.0 C986.3,484.5 988.2,481.7 991.0,503.0 C993.8,524.3 997.3,567.2 1000.0,600.0 C1002.7,632.8 1005.2,666.7 1007.0,700.0 C1008.8,733.3 1010.0,766.7 1010.8,800.0 C1011.6,833.3 1011.2,866.7 1012.0,900.0 C1012.8,933.3 1013.8,973.2 1015.8,1000.0 C1017.8,1026.8 1022.6,1050.8 1024.0,1061.0 L1023.5,1068.3 L1022.9,1065.8 L1021.8,1063.4 L1020.2,1061.1 L1017.9,1058.9 L1015.2,1056.8 L1011.9,1054.9 L1008.1,1053.1 L1003.9,1051.4 L999.2,1049.9 L994.0,1048.6 L988.5,1047.5 L982.7,1046.5 L976.5,1045.8 L970.0,1045.2 L963.3,1044.9 L956.4,1044.7 L949.3,1044.8 L942.2,1045.0 L934.9,1045.5 L927.7,1046.2 L920.4,1047.0 L913.2,1048.1 L910,1045 C909.7,1037.5 909.8,1024.2 908.0,1000.0 C906.2,975.8 901.9,933.3 899.0,900.0 C896.1,866.7 893.5,833.3 890.8,800.0 C888.1,766.7 885.6,733.3 883.0,700.0 C880.4,666.7 877.7,633.3 875.0,600.0 C872.3,566.7 869.6,533.3 867.0,500.0 C864.4,466.7 861.5,430.0 859.3,400.0 C857.1,370.0 855.9,346.7 854.0,320.0 C852.1,293.3 850.3,265.3 848.0,240.0 C845.7,214.7 841.3,180.0 840.0,168.0 Z" fill="url(#gLumen)"/>
<path d="M913.2,1048.1 L920.4,1047.0 L927.7,1046.2 L934.9,1045.5 L942.2,1045.0 L949.3,1044.8 L956.4,1044.7 L963.3,1044.9 L970.0,1045.2 L976.5,1045.8 L982.7,1046.5 L988.5,1047.5 L994.0,1048.6 L999.2,1049.9 L1003.9,1051.4 L1008.1,1053.1 L1011.9,1054.9 L1015.2,1056.8 L1017.9,1058.9 L1020.2,1061.1 L1021.8,1063.4 L1022.9,1065.8 L1023.5,1068.3" fill="none" stroke="#7d0b10" stroke-width="3.5"/>
<path d="M852,288 L890,286 C910,284 932,262 943,223" fill="none" stroke="#7d0b10" stroke-width="4.5"/>
<path d="M854,61 L909,61 L909,166 L907.6,172 L907.6,215 Q907.6,223 899.6,223 L868,223 Q860,223 860,215 L860,172 L854,166 Z" fill="url(#gCath)"/>
<path d="M854,121 L854,166 L860,172 L860,215 Q860,223 868,223 L899.6,223 Q907.6,223 907.6,215 L907.6,172 L909,166 L909,121" fill="none" stroke="#9c9ea4" stroke-width="3.5" stroke-linejoin="round"/>
<path d="M854,160 Q881.5,154 909,160" fill="none" stroke="#9c9ea4" stroke-width="2"/>
<ellipse cx="883.8" cy="209" rx="19.80000000000001" ry="8" fill="#86c1de"/>
<ellipse cx="883.8" cy="210" rx="11.800000000000011" ry="4.5" fill="#5aaad6" opacity="0.7"/>
<path d="M876,214 L879,322 L893,322 L891,214 Z" fill="#a3a6ad"/>
<path d="M884,212 L886,322" stroke="#c4c7cc" stroke-width="3"/>
<path d="M857.0,327.0 L857.5,335.0 L858.1,343.0 L858.6,351.0 L859.2,359.0 L859.7,367.0 L860.3,375.0 L860.8,383.0 L861.4,391.0 L861.9,399.0 L862.6,407.0 L863.2,415.0 L863.8,423.0 L864.5,431.0 L865.1,439.0 L865.8,447.0 L866.4,455.0 L867.0,463.0 L867.7,471.0 L868.3,479.0 L869.0,487.0 L869.6,495.0 L870.2,503.0 L870.9,511.0 L871.5,519.0 L872.2,527.0 L872.8,535.0 L873.4,543.0 L874.1,551.0 L874.7,559.0 L875.4,567.0 L876.0,575.0 L876.6,583.0 L877.3,591.0 L877.9,599.0 L878.6,607.0 L879.2,615.0 L879.8,623.0 L880.5,631.0 L881.1,639.0 L881.8,647.0 L882.4,655.0 L883.0,663.0 L883.7,671.0 L884.3,679.0 L885.0,687.0 L885.6,695.0 L886.2,703.0 L886.8,711.0 L887.5,719.0 L888.1,727.0 L888.7,735.0 L889.3,743.0 L889.9,751.0 L890.5,759.0 L891.2,767.0 L891.8,775.0 L892.4,783.0 L893.0,791.0 L893.6,799.0 L894.8,807.0 L896.0,815.0 L897.3,823.0 L898.5,831.0 L899.7,839.0 L901.0,847.0 L902.2,855.0 L903.5,863.0 L904.7,871.0 L940.0,873.0 L939.2,865.0 L938.4,857.0 L937.5,849.0 L936.7,841.0 L935.9,833.0 L935.1,825.0 L934.2,817.0 L933.4,809.0 L932.6,801.0 L932.0,793.0 L931.4,785.0 L930.8,777.0 L930.2,769.0 L929.6,761.0 L929.0,753.0 L928.4,745.0 L927.8,737.0 L927.2,729.0 L926.6,721.0 L926.0,713.0 L925.4,705.0 L924.8,697.0 L924.1,689.0 L923.4,681.0 L922.8,673.0 L922.1,665.0 L921.5,657.0 L920.8,649.0 L920.2,641.0 L919.5,633.0 L918.8,625.0 L918.2,617.0 L917.5,609.0 L916.9,601.0 L916.6,593.0 L916.4,585.0 L916.2,577.0 L915.9,569.0 L915.7,561.0 L915.5,553.0 L915.3,545.0 L915.0,537.0 L914.8,529.0 L914.6,521.0 L914.4,513.0 L914.1,505.0 L913.9,497.0 L913.7,489.0 L913.4,481.0 L913.2,473.0 L913.0,465.0 L912.7,457.0 L912.5,449.0 L912.2,441.0 L912.0,433.0 L911.8,425.0 L911.5,417.0 L911.3,409.0 L911.0,401.0 L909.8,393.0 L908.3,385.0 L906.9,377.0 L905.5,369.0 L904.1,361.0 L902.6,353.0 L901.2,345.0 L899.8,337.0 L898.4,329.0 Z" fill="#4b8fae"/>
<path d="M860,330 L896,330 L893,360 L864,360 Z" fill="#5fb6dc" opacity="0.7"/>
<path d="M857.2,330.0 C859.3,335.4 870.3,355.3 871.0,366.2 C871.8,377.1 861.3,391.5 862.2,402.4 C863.1,413.3 876.0,427.7 876.9,438.6 C877.7,449.5 867.3,463.9 868.0,474.8 C868.7,485.7 880.9,500.1 881.7,511.0 C882.6,521.9 873.0,536.3 873.8,547.2 C874.5,558.1 885.7,572.5 886.6,583.4 C887.5,594.3 878.7,608.7 879.6,619.6 C880.4,630.5 891.3,644.9 892.2,655.8 C893.1,666.7 884.5,681.1 885.4,692.0 C886.2,702.9 897.1,717.3 897.9,728.2 C898.7,739.1 890.1,753.5 891.0,764.4 C891.8,775.3 902.2,789.7 903.5,800.6 C904.8,811.5 897.9,825.9 899.4,836.8 C900.9,847.7 911.6,867.6 913.8,873.0 M877.9,330.0 C880.2,335.4 892.3,355.3 893.7,366.2 C895.0,377.1 885.6,391.5 886.6,402.4 C887.6,413.3 899.8,427.7 900.4,438.6 C901.0,449.5 890.2,463.9 890.6,474.8 C891.1,485.7 902.9,500.1 903.5,511.0 C904.0,521.9 894.1,536.3 894.5,547.2 C895.0,558.1 905.8,572.5 906.4,583.4 C907.1,594.3 898.2,608.7 899.0,619.6 C899.8,630.5 910.8,644.9 911.6,655.8 C912.5,666.7 904.0,681.1 904.9,692.0 C905.7,702.9 916.5,717.3 917.4,728.2 C918.2,739.1 909.6,753.5 910.4,764.4 C911.2,775.3 921.8,789.7 922.9,800.6 C924.0,811.5 916.6,825.9 917.8,836.8 C919.1,847.7 929.2,867.6 931.2,873.0 M877.9,330.0 C876.8,335.4 869.7,355.3 871.0,366.2 C872.3,377.1 885.8,391.5 886.6,402.4 C887.5,413.3 876.3,427.7 876.9,438.6 C877.5,449.5 889.9,463.9 890.6,474.8 C891.3,485.7 881.1,500.1 881.7,511.0 C882.3,521.9 893.8,536.3 894.5,547.2 C895.3,558.1 885.9,572.5 886.6,583.4 C887.3,594.3 898.1,608.7 899.0,619.6 C899.8,630.5 891.3,644.9 892.2,655.8 C893.1,666.7 904.0,681.1 904.9,692.0 C905.7,702.9 897.1,717.3 897.9,728.2 C898.7,739.1 909.6,753.5 910.4,764.4 C911.2,775.3 902.4,789.7 903.5,800.6 C904.6,811.5 916.3,825.9 917.8,836.8 C919.4,847.7 914.4,867.6 913.8,873.0 M898.5,330.0 C897.8,335.4 891.8,355.3 893.7,366.2 C895.5,377.1 910.1,391.5 911.1,402.4 C912.1,413.3 900.1,427.7 900.4,438.6 C900.7,449.5 912.8,463.9 913.2,474.8 C913.7,485.7 903.1,500.1 903.5,511.0 C903.8,521.9 914.9,536.3 915.3,547.2 C915.8,558.1 906.0,572.5 906.4,583.4 C906.9,594.3 917.6,608.7 918.4,619.6 C919.2,630.5 910.8,644.9 911.6,655.8 C912.5,666.7 923.5,681.1 924.3,692.0 C925.2,702.9 916.6,717.3 917.4,728.2 C918.2,739.1 929.0,753.5 929.8,764.4 C930.7,775.3 921.9,789.7 922.9,800.6 C923.8,811.5 935.0,825.9 936.3,836.8 C937.5,847.7 932.0,867.6 931.2,873.0" fill="none" stroke="#86b9cf" stroke-width="3" transform="translate(5,12)" stroke-linecap="round" opacity="0.9"/><path d="M857.2,330.0 C859.3,335.4 870.3,355.3 871.0,366.2 C871.8,377.1 861.3,391.5 862.2,402.4 C863.1,413.3 876.0,427.7 876.9,438.6 C877.7,449.5 867.3,463.9 868.0,474.8 C868.7,485.7 880.9,500.1 881.7,511.0 C882.6,521.9 873.0,536.3 873.8,547.2 C874.5,558.1 885.7,572.5 886.6,583.4 C887.5,594.3 878.7,608.7 879.6,619.6 C880.4,630.5 891.3,644.9 892.2,655.8 C893.1,666.7 884.5,681.1 885.4,692.0 C886.2,702.9 897.1,717.3 897.9,728.2 C898.7,739.1 890.1,753.5 891.0,764.4 C891.8,775.3 902.2,789.7 903.5,800.6 C904.8,811.5 897.9,825.9 899.4,836.8 C900.9,847.7 911.6,867.6 913.8,873.0 M877.9,330.0 C880.2,335.4 892.3,355.3 893.7,366.2 C895.0,377.1 885.6,391.5 886.6,402.4 C887.6,413.3 899.8,427.7 900.4,438.6 C901.0,449.5 890.2,463.9 890.6,474.8 C891.1,485.7 902.9,500.1 903.5,511.0 C904.0,521.9 894.1,536.3 894.5,547.2 C895.0,558.1 905.8,572.5 906.4,583.4 C907.1,594.3 898.2,608.7 899.0,619.6 C899.8,630.5 910.8,644.9 911.6,655.8 C912.5,666.7 904.0,681.1 904.9,692.0 C905.7,702.9 916.5,717.3 917.4,728.2 C918.2,739.1 909.6,753.5 910.4,764.4 C911.2,775.3 921.8,789.7 922.9,800.6 C924.0,811.5 916.6,825.9 917.8,836.8 C919.1,847.7 929.2,867.6 931.2,873.0 M877.9,330.0 C876.8,335.4 869.7,355.3 871.0,366.2 C872.3,377.1 885.8,391.5 886.6,402.4 C887.5,413.3 876.3,427.7 876.9,438.6 C877.5,449.5 889.9,463.9 890.6,474.8 C891.3,485.7 881.1,500.1 881.7,511.0 C882.3,521.9 893.8,536.3 894.5,547.2 C895.3,558.1 885.9,572.5 886.6,583.4 C887.3,594.3 898.1,608.7 899.0,619.6 C899.8,630.5 891.3,644.9 892.2,655.8 C893.1,666.7 904.0,681.1 904.9,692.0 C905.7,702.9 897.1,717.3 897.9,728.2 C898.7,739.1 909.6,753.5 910.4,764.4 C911.2,775.3 902.4,789.7 903.5,800.6 C904.6,811.5 916.3,825.9 917.8,836.8 C919.4,847.7 914.4,867.6 913.8,873.0 M898.5,330.0 C897.8,335.4 891.8,355.3 893.7,366.2 C895.5,377.1 910.1,391.5 911.1,402.4 C912.1,413.3 900.1,427.7 900.4,438.6 C900.7,449.5 912.8,463.9 913.2,474.8 C913.7,485.7 903.1,500.1 903.5,511.0 C903.8,521.9 914.9,536.3 915.3,547.2 C915.8,558.1 906.0,572.5 906.4,583.4 C906.9,594.3 917.6,608.7 918.4,619.6 C919.2,630.5 910.8,644.9 911.6,655.8 C912.5,666.7 923.5,681.1 924.3,692.0 C925.2,702.9 916.6,717.3 917.4,728.2 C918.2,739.1 929.0,753.5 929.8,764.4 C930.7,775.3 921.9,789.7 922.9,800.6 C923.8,811.5 935.0,825.9 936.3,836.8 C937.5,847.7 932.0,867.6 931.2,873.0" fill="none" stroke="#1b5e9e" stroke-width="4.4" stroke-linecap="round" stroke-linejoin="round"/>
<path d="M903,866 C912,900 922,940 933,966 L943,960 C941,930 940,895 940,860 Z" fill="#8cc6e0" stroke="#28aae6" stroke-width="3.5" stroke-linejoin="round"/>
<path d="M964.7,425.6 C961.6,429.5 950.8,442.3 946.0,449.0 C941.2,455.7 938.0,459.0 936.0,466.0 C934.0,473.0 935.3,484.8 934.0,491.0 C932.7,497.2 929.5,494.8 928.0,503.0 C926.5,511.2 926.0,527.2 925.0,540.0 C924.0,552.8 921.8,566.7 922.0,580.0 C922.2,593.3 924.2,609.5 926.0,620.0 C927.8,630.5 930.7,626.3 933.0,643.0 C935.3,659.7 936.3,704.5 939.6,720.0 C942.9,735.5 949.7,726.7 953.0,736.0 C956.3,745.3 958.1,765.3 959.6,776.0 C961.1,786.7 959.3,792.3 962.0,800.0 C964.7,807.7 970.5,815.0 976.0,822.0 C981.5,829.0 989.7,836.8 995.0,842.0 C1000.3,847.2 1005.8,851.2 1008.0,853.0 L1010.8,800.0 L1009.0,760.0 L1007.0,700.0 L1000.0,600.0 L991.0,503.0 L983.0,472.0 L971.0,428.0 Z" fill="url(#gPlaque)"/>
<path d="M964.7,425.6 C961.6,429.5 950.8,442.3 946.0,449.0 C941.2,455.7 938.0,459.0 936.0,466.0 C934.0,473.0 935.3,484.8 934.0,491.0 C932.7,497.2 929.5,494.8 928.0,503.0 C926.5,511.2 926.0,527.2 925.0,540.0 C924.0,552.8 921.8,566.7 922.0,580.0 C922.2,593.3 924.2,609.5 926.0,620.0 C927.8,630.5 930.7,626.3 933.0,643.0 C935.3,659.7 936.3,704.5 939.6,720.0 C942.9,735.5 949.7,726.7 953.0,736.0 C956.3,745.3 958.1,765.3 959.6,776.0 C961.1,786.7 959.3,792.3 962.0,800.0 C964.7,807.7 970.5,815.0 976.0,822.0 C981.5,829.0 989.7,836.8 995.0,842.0 C1000.3,847.2 1005.8,851.2 1008.0,853.0" fill="none" stroke="#9a9418" stroke-width="4.5" stroke-linejoin="round"/>
<path d="M964,893 L986,893 L989,984 L1005,986 L983,1018 L958,984 L966,984 Z" fill="url(#gArrowB)"/>
<path d="M966,984 L958,984 L983,1018 L1005,986 L989,984" fill="none" stroke="#1e3f7a" stroke-width="3.2" stroke-linejoin="round"/>
<path d="M931,962 Q938,1020 945,1083 L956,1168 L974,1280 L969,1168 L959,1083 Q951,1020 944,962 Z" fill="url(#gWire)"/>
<path d="M943,223 L967,218 L991,214 C992.5,228.3 997.3,269.0 1000.0,300.0 C1002.7,331.0 1004.8,376.7 1007.3,400.0 C1009.8,423.3 1011.4,406.7 1015.0,440.0 C1018.6,473.3 1025.2,556.7 1028.9,600.0 C1032.6,643.3 1034.5,666.7 1037.0,700.0 C1039.5,733.3 1041.1,766.7 1043.8,800.0 C1046.5,833.3 1049.8,866.7 1053.0,900.0 C1056.2,933.3 1060.9,974.2 1063.2,1000.0 C1065.5,1025.8 1066.4,1045.8 1067.0,1055.0 L1024,1061 C1022.6,1050.8 1017.8,1026.8 1015.8,1000.0 C1013.8,973.2 1012.8,933.3 1012.0,900.0 C1011.2,866.7 1011.6,833.3 1010.8,800.0 C1010.0,766.7 1008.8,733.3 1007.0,700.0 C1005.2,666.7 1002.7,632.8 1000.0,600.0 C997.3,567.2 993.8,524.3 991.0,503.0 C988.2,481.7 986.3,484.5 983.0,472.0 C979.7,459.5 974.2,435.8 971.0,428.0 C967.8,420.2 965.6,429.7 964.0,425.0 C962.4,420.3 963.1,420.8 961.3,400.0 C959.5,379.2 956.0,329.5 953.0,300.0 C950.0,270.5 944.7,235.8 943.0,223.0 Z" fill="url(#gRight)" stroke="#7d0b10" stroke-width="4.5" stroke-linejoin="round"/>
<path d="M747,240 C750,185 785,165 828,158 C829.0,171.7 831.8,212.2 834.0,240.0 C836.2,267.8 838.9,298.3 841.0,325.0 C843.1,351.7 844.2,370.8 846.4,400.0 C848.6,429.2 851.4,466.7 854.0,500.0 C856.6,533.3 859.4,566.7 862.2,600.0 C865.0,633.3 868.1,666.7 871.0,700.0 C873.9,733.3 876.8,766.7 879.3,800.0 C881.8,833.3 883.7,866.7 886.0,900.0 C888.3,933.3 891.4,977.2 892.9,1000.0 C894.4,1022.8 894.6,1030.8 895.0,1037.0 Q831,1053 805,1085 C804.1,1070.8 801.5,1030.8 799.5,1000.0 C797.5,969.2 795.3,933.3 793.0,900.0 C790.7,866.7 788.1,833.3 785.9,800.0 C783.7,766.7 782.0,733.3 780.0,700.0 C778.0,666.7 776.1,633.3 773.8,600.0 C771.5,566.7 768.5,533.3 766.0,500.0 C763.5,466.7 761.0,429.2 758.7,400.0 C756.4,370.8 754.0,351.7 752.0,325.0 C750.0,298.3 747.8,254.2 747.0,240.0 Z" fill="url(#gBand)" stroke="#7d0b10" stroke-width="4.5" stroke-linejoin="round"/>
<path d="M828,158 C829.0,171.7 831.8,212.2 834.0,240.0 C836.2,267.8 838.9,298.3 841.0,325.0 C843.1,351.7 844.2,370.8 846.4,400.0 C848.6,429.2 851.4,466.7 854.0,500.0 C856.6,533.3 859.4,566.7 862.2,600.0 C865.0,633.3 868.1,666.7 871.0,700.0 C873.9,733.3 876.8,766.7 879.3,800.0 C881.8,833.3 883.7,866.7 886.0,900.0 C888.3,933.3 891.4,977.2 892.9,1000.0 C894.4,1022.8 894.6,1030.8 895.0,1037.0 L910.0,1045.0 C909.7,1037.5 909.8,1024.2 908.0,1000.0 C906.2,975.8 901.9,933.3 899.0,900.0 C896.1,866.7 893.5,833.3 890.8,800.0 C888.1,766.7 885.6,733.3 883.0,700.0 C880.4,666.7 877.7,633.3 875.0,600.0 C872.3,566.7 869.6,533.3 867.0,500.0 C864.4,466.7 861.5,430.0 859.3,400.0 C857.1,370.0 855.9,346.7 854.0,320.0 C852.1,293.3 850.3,265.3 848.0,240.0 C845.7,214.7 841.3,180.0 840.0,168.0 Z" fill="url(#gStrip)" stroke="#7d0b10" stroke-width="3.5" stroke-linejoin="round"/>
<ellipse cx="1484" cy="1078" rx="130" ry="50" transform="rotate(-6 1484 1078)" fill="url(#gRing)" stroke="#7d0b10" stroke-width="4.5"/>
<ellipse cx="1481.5" cy="1078" rx="88" ry="30" transform="rotate(-6 1481.5 1078)" fill="url(#gHole)" stroke="#7d0b10" stroke-width="3.5"/>
<path d="M1404,291 L1442,285 C1462,278 1485,262 1493,230 C1494.5,244.5 1498.6,288.7 1502.0,317.0 C1505.4,345.3 1510.6,382.0 1513.6,400.0 C1516.6,418.0 1514.8,406.8 1520.0,425.0 C1525.2,443.2 1538.3,479.8 1544.7,509.0 C1551.1,538.2 1555.8,568.2 1558.3,600.0 C1560.8,631.8 1559.3,666.7 1560.0,700.0 C1560.7,733.3 1561.4,766.7 1562.2,800.0 C1563.0,833.3 1564.0,866.7 1565.0,900.0 C1566.0,933.3 1567.5,972.8 1568.5,1000.0 C1569.5,1027.2 1570.6,1052.5 1571.0,1063.0 L1569.0,1068.8 L1568.5,1066.5 L1567.4,1064.2 L1565.9,1062.1 L1563.8,1060.0 L1561.2,1058.1 L1558.1,1056.3 L1554.5,1054.6 L1550.5,1053.0 L1546.0,1051.6 L1541.2,1050.4 L1536.0,1049.3 L1530.4,1048.5 L1524.6,1047.8 L1518.4,1047.2 L1512.1,1046.9 L1505.6,1046.8 L1498.9,1046.8 L1492.1,1047.1 L1485.2,1047.5 L1478.4,1048.2 L1471.5,1049.0 L1464.7,1050.0 L1458.0,1051.1 L1459,1049 C1458.8,1040.8 1459.2,1024.5 1458.0,1000.0 C1456.8,975.5 1454.6,935.2 1451.6,902.0 C1448.6,868.8 1442.9,834.7 1440.0,801.0 C1437.1,767.3 1437.2,733.5 1434.0,700.0 C1430.8,666.5 1424.3,633.3 1421.0,600.0 C1417.7,566.7 1416.3,533.3 1414.0,500.0 C1411.7,466.7 1408.7,423.0 1407.0,400.0 C1405.3,377.0 1405.2,383.2 1404.0,362.0 C1402.8,340.8 1401.5,301.5 1400.0,273.0 C1398.5,244.5 1397.8,209.0 1395.0,191.0 C1392.2,173.0 1385.0,169.3 1383.0,165.0 Z" fill="url(#gLumen)"/>
<path d="M1458.0,1051.1 L1464.7,1050.0 L1471.5,1049.0 L1478.4,1048.2 L1485.2,1047.5 L1492.1,1047.1 L1498.9,1046.8 L1505.6,1046.8 L1512.1,1046.9 L1518.4,1047.2 L1524.6,1047.8 L1530.4,1048.5 L1536.0,1049.3 L1541.2,1050.4 L1546.0,1051.6 L1550.5,1053.0 L1554.5,1054.6 L1558.1,1056.3 L1561.2,1058.1 L1563.8,1060.0 L1565.9,1062.1 L1567.4,1064.2 L1568.5,1066.5 L1569.0,1068.8" fill="none" stroke="#7d0b10" stroke-width="3.5"/>
<path d="M1404,291 L1442,285 C1462,278 1485,262 1493,230" fill="none" stroke="#7d0b10" stroke-width="4.5"/>
<path d="M1401,68 L1454,68 L1454,171 L1453,177 L1453,221 Q1453,229 1445,229 L1413.5,229 Q1405.5,229 1405.5,221 L1405.5,177 L1401,171 Z" fill="url(#gCath)"/>
<path d="M1401,128 L1401,171 L1405.5,177 L1405.5,221 Q1405.5,229 1413.5,229 L1445,229 Q1453,229 1453,221 L1453,177 L1454,171 L1454,128" fill="none" stroke="#9c9ea4" stroke-width="3.5" stroke-linejoin="round"/>
<path d="M1401,165 Q1427.5,159 1454,165" fill="none" stroke="#9c9ea4" stroke-width="2"/>
<ellipse cx="1429.25" cy="215" rx="19.75" ry="8" fill="#86c1de"/>
<ellipse cx="1429.25" cy="216" rx="11.75" ry="4.5" fill="#5aaad6" opacity="0.7"/>
<path d="M1424,222 L1433,362 L1447,362 L1440,222 Z" fill="#a3a6ad"/>
<path d="M1408,384 C1408,372 1420,362 1440,360 C1470,360 1490,372 1502,388 L1512.0,400.0 L1513.0,500.0 L1524.0,600.0 L1533.0,702.0 L1537.0,800.0 L1539.0,826.0 L1542.8,839.0 L1513.0,886.0 L1512.0,985.0 L1507.0,1004.0 L1479.0,985.0 L1466.0,959.0 L1459.6,909.0 L1446.0,826.0 L1441.0,800.0 L1435.0,700.0 L1422.0,600.0 L1415.0,500.0 L1410.0,400.0 L1408.0,384.0 Z" fill="url(#gBalloon)"/>
<path d="M1408,384 C1408,372 1420,362 1440,360 C1470,360 1490,372 1502,390" fill="none" stroke="#29aae6" stroke-width="4"/>
<path d="M1446,826 L1459.6,909 L1466,959 L1479,985 L1493,1004" fill="none" stroke="#29aae6" stroke-width="3.5"/>
<path d="M1542.8,839 L1513,886 L1513,985 L1507,1004" fill="none" stroke="#29aae6" stroke-width="3.5"/>
<path d="M1408.2,386.0 C1410.6,390.8 1427.6,417.6 1428.2,427.3 C1428.8,436.9 1413.0,458.9 1413.4,468.5 C1413.9,478.2 1431.5,500.2 1432.1,509.8 C1432.7,519.4 1417.8,541.5 1418.6,551.1 C1419.3,560.7 1437.5,582.7 1438.4,592.4 C1439.3,602.0 1425.2,624.0 1426.4,633.6 C1427.5,643.3 1447.1,665.3 1448.2,674.9 C1449.3,684.5 1435.2,706.6 1436.0,716.2 C1436.7,725.8 1454.0,747.8 1454.6,757.5 C1455.2,767.1 1440.3,789.1 1440.9,798.7 C1441.6,808.4 1457.8,835.2 1460.0,840.0 M1439.5,386.0 C1442.1,390.8 1461.0,417.6 1461.8,427.3 C1462.6,436.9 1446.2,458.9 1446.5,468.5 C1446.9,478.2 1464.3,500.2 1464.9,509.8 C1465.5,519.4 1451.1,541.5 1451.9,551.1 C1452.8,560.7 1471.4,582.7 1472.3,592.4 C1473.2,602.0 1458.9,624.0 1459.9,633.6 C1460.9,643.3 1480.2,665.3 1481.2,674.9 C1482.2,684.5 1467.8,706.6 1468.5,716.2 C1469.2,725.8 1486.3,747.8 1486.9,757.5 C1487.4,767.1 1472.3,789.1 1472.9,798.7 C1473.5,808.4 1489.8,835.2 1492.0,840.0 M1439.5,386.0 C1438.2,390.8 1427.4,417.6 1428.2,427.3 C1429.0,436.9 1446.1,458.9 1446.5,468.5 C1447.0,478.2 1431.5,500.2 1432.1,509.8 C1432.7,519.4 1451.2,541.5 1451.9,551.1 C1452.7,560.7 1437.5,582.7 1438.4,592.4 C1439.3,602.0 1458.8,624.0 1459.9,633.6 C1461.0,643.3 1447.2,665.3 1448.2,674.9 C1449.2,684.5 1467.8,706.6 1468.5,716.2 C1469.2,725.8 1454.1,747.8 1454.6,757.5 C1455.1,767.1 1472.3,789.1 1472.9,798.7 C1473.6,808.4 1461.5,835.2 1460.0,840.0 M1470.8,386.0 C1473.6,390.8 1494.4,417.6 1495.5,427.3 C1496.5,436.9 1479.3,458.9 1479.6,468.5 C1479.9,478.2 1497.0,500.2 1497.7,509.8 C1498.3,519.4 1484.3,541.5 1485.3,551.1 C1486.3,560.7 1505.3,582.7 1506.2,592.4 C1507.2,602.0 1492.5,624.0 1493.4,633.6 C1494.4,643.3 1513.2,665.3 1514.1,674.9 C1515.0,684.5 1500.5,706.6 1501.0,716.2 C1501.6,725.8 1518.7,747.8 1519.1,757.5 C1519.6,767.1 1504.4,789.1 1504.9,798.7 C1505.5,808.4 1521.8,835.2 1524.0,840.0 M1470.8,386.0 C1469.7,390.8 1460.8,417.6 1461.8,427.3 C1462.9,436.9 1479.2,458.9 1479.6,468.5 C1480.0,478.2 1464.2,500.2 1464.9,509.8 C1465.5,519.4 1484.4,541.5 1485.3,551.1 C1486.1,560.7 1471.4,582.7 1472.3,592.4 C1473.3,602.0 1492.4,624.0 1493.4,633.6 C1494.5,643.3 1480.3,665.3 1481.2,674.9 C1482.1,684.5 1500.4,706.6 1501.0,716.2 C1501.7,725.8 1486.4,747.8 1486.9,757.5 C1487.3,767.1 1504.3,789.1 1504.9,798.7 C1505.5,808.4 1493.5,835.2 1492.0,840.0 M1502.0,386.0 C1501.2,390.8 1494.2,417.6 1495.5,427.3 C1496.7,436.9 1512.4,458.9 1512.7,468.5 C1512.9,478.2 1497.0,500.2 1497.7,509.8 C1498.4,519.4 1517.6,541.5 1518.6,551.1 C1519.6,560.7 1505.2,582.7 1506.2,592.4 C1507.2,602.0 1526.0,624.0 1527.0,633.6 C1527.9,643.3 1513.4,665.3 1514.1,674.9 C1514.9,684.5 1533.0,706.6 1533.6,716.2 C1534.2,725.8 1518.7,747.8 1519.1,757.5 C1519.5,767.1 1536.4,789.1 1536.9,798.7 C1537.5,808.4 1525.5,835.2 1524.0,840.0" fill="none" stroke="#8a98a2" stroke-width="4" transform="translate(-4,6)" stroke-linecap="round" opacity="0.85"/><path d="M1408.2,386.0 C1410.6,390.8 1427.6,417.6 1428.2,427.3 C1428.8,436.9 1413.0,458.9 1413.4,468.5 C1413.9,478.2 1431.5,500.2 1432.1,509.8 C1432.7,519.4 1417.8,541.5 1418.6,551.1 C1419.3,560.7 1437.5,582.7 1438.4,592.4 C1439.3,602.0 1425.2,624.0 1426.4,633.6 C1427.5,643.3 1447.1,665.3 1448.2,674.9 C1449.3,684.5 1435.2,706.6 1436.0,716.2 C1436.7,725.8 1454.0,747.8 1454.6,757.5 C1455.2,767.1 1440.3,789.1 1440.9,798.7 C1441.6,808.4 1457.8,835.2 1460.0,840.0 M1439.5,386.0 C1442.1,390.8 1461.0,417.6 1461.8,427.3 C1462.6,436.9 1446.2,458.9 1446.5,468.5 C1446.9,478.2 1464.3,500.2 1464.9,509.8 C1465.5,519.4 1451.1,541.5 1451.9,551.1 C1452.8,560.7 1471.4,582.7 1472.3,592.4 C1473.2,602.0 1458.9,624.0 1459.9,633.6 C1460.9,643.3 1480.2,665.3 1481.2,674.9 C1482.2,684.5 1467.8,706.6 1468.5,716.2 C1469.2,725.8 1486.3,747.8 1486.9,757.5 C1487.4,767.1 1472.3,789.1 1472.9,798.7 C1473.5,808.4 1489.8,835.2 1492.0,840.0 M1439.5,386.0 C1438.2,390.8 1427.4,417.6 1428.2,427.3 C1429.0,436.9 1446.1,458.9 1446.5,468.5 C1447.0,478.2 1431.5,500.2 1432.1,509.8 C1432.7,519.4 1451.2,541.5 1451.9,551.1 C1452.7,560.7 1437.5,582.7 1438.4,592.4 C1439.3,602.0 1458.8,624.0 1459.9,633.6 C1461.0,643.3 1447.2,665.3 1448.2,674.9 C1449.2,684.5 1467.8,706.6 1468.5,716.2 C1469.2,725.8 1454.1,747.8 1454.6,757.5 C1455.1,767.1 1472.3,789.1 1472.9,798.7 C1473.6,808.4 1461.5,835.2 1460.0,840.0 M1470.8,386.0 C1473.6,390.8 1494.4,417.6 1495.5,427.3 C1496.5,436.9 1479.3,458.9 1479.6,468.5 C1479.9,478.2 1497.0,500.2 1497.7,509.8 C1498.3,519.4 1484.3,541.5 1485.3,551.1 C1486.3,560.7 1505.3,582.7 1506.2,592.4 C1507.2,602.0 1492.5,624.0 1493.4,633.6 C1494.4,643.3 1513.2,665.3 1514.1,674.9 C1515.0,684.5 1500.5,706.6 1501.0,716.2 C1501.6,725.8 1518.7,747.8 1519.1,757.5 C1519.6,767.1 1504.4,789.1 1504.9,798.7 C1505.5,808.4 1521.8,835.2 1524.0,840.0 M1470.8,386.0 C1469.7,390.8 1460.8,417.6 1461.8,427.3 C1462.9,436.9 1479.2,458.9 1479.6,468.5 C1480.0,478.2 1464.2,500.2 1464.9,509.8 C1465.5,519.4 1484.4,541.5 1485.3,551.1 C1486.1,560.7 1471.4,582.7 1472.3,592.4 C1473.3,602.0 1492.4,624.0 1493.4,633.6 C1494.5,643.3 1480.3,665.3 1481.2,674.9 C1482.1,684.5 1500.4,706.6 1501.0,716.2 C1501.7,725.8 1486.4,747.8 1486.9,757.5 C1487.3,767.1 1504.3,789.1 1504.9,798.7 C1505.5,808.4 1493.5,835.2 1492.0,840.0 M1502.0,386.0 C1501.2,390.8 1494.2,417.6 1495.5,427.3 C1496.7,436.9 1512.4,458.9 1512.7,468.5 C1512.9,478.2 1497.0,500.2 1497.7,509.8 C1498.4,519.4 1517.6,541.5 1518.6,551.1 C1519.6,560.7 1505.2,582.7 1506.2,592.4 C1507.2,602.0 1526.0,624.0 1527.0,633.6 C1527.9,643.3 1513.4,665.3 1514.1,674.9 C1514.9,684.5 1533.0,706.6 1533.6,716.2 C1534.2,725.8 1518.7,747.8 1519.1,757.5 C1519.5,767.1 1536.4,789.1 1536.9,798.7 C1537.5,808.4 1525.5,835.2 1524.0,840.0" fill="none" stroke="#1b5a9c" stroke-width="4.2" stroke-linecap="round" stroke-linejoin="round"/>
<path d="M1516.0,419.0 L1512.0,428.0 L1513.0,470.0 L1514.5,509.0 L1526.0,600.0 L1531.7,639.0 L1536.0,768.0 L1537.0,800.0 L1544.7,833.0 L1557.6,854.0 L1562.2,800.0 L1560.0,700.0 L1558.3,600.0 L1544.7,509.0 L1520.0,425.0 Z" fill="#efc95f" stroke="#a69a1a" stroke-width="2.5"/>
<path d="M1430.8,602 L1464,571 L1465,586.5 L1506,597.6 L1508.5,582 L1545,633 L1508.5,668.5 L1508.5,646 L1468.6,639.7 L1468.6,657.5 Z" fill="#1e5fb0" fill-opacity="0.92" stroke="#174a90" stroke-width="2.5" stroke-linejoin="round"/>
<path d="M1493,1000 L1506,1000 L1512,1062 L1496,1062 Z" fill="#c4c6cc" opacity="0.75"/>
<path d="M1495,1062 L1513,1062 L1532,1200 L1546,1332 L1520,1200 Z" fill="url(#gWire)"/>
<path d="M1493,230 L1515,221 L1537,222 C1538.2,237.8 1540.5,287.3 1544.0,317.0 C1547.5,346.7 1552.5,368.0 1558.3,400.0 C1564.1,432.0 1573.1,475.7 1579.0,509.0 C1584.9,542.3 1590.8,568.2 1593.6,600.0 C1596.4,631.8 1595.2,666.7 1596.0,700.0 C1596.8,733.3 1597.5,766.7 1598.3,800.0 C1599.1,833.3 1599.4,866.7 1601.0,900.0 C1602.6,933.3 1605.7,973.0 1607.7,1000.0 C1609.7,1027.0 1612.1,1051.7 1613.0,1062.0 L1569,1063 C1570.6,1052.5 1569.5,1027.2 1568.5,1000.0 C1567.5,972.8 1566.0,933.3 1565.0,900.0 C1564.0,866.7 1563.0,833.3 1562.2,800.0 C1561.4,766.7 1560.7,733.3 1560.0,700.0 C1559.3,666.7 1560.8,631.8 1558.3,600.0 C1555.8,568.2 1551.1,538.2 1544.7,509.0 C1538.3,479.8 1525.2,443.2 1520.0,425.0 C1514.8,406.8 1516.6,418.0 1513.6,400.0 C1510.6,382.0 1505.4,345.3 1502.0,317.0 C1498.6,288.7 1494.5,244.5 1493.0,230.0 Z" fill="url(#gRight)" stroke="#7d0b10" stroke-width="4.5" stroke-linejoin="round"/>
<path d="M1299,233 C1303,195 1330,170 1373,160 C1373.8,167.7 1375.8,179.8 1377.6,206.0 C1379.4,232.2 1381.7,284.7 1384.0,317.0 C1386.3,349.3 1388.6,369.5 1391.3,400.0 C1394.0,430.5 1397.4,466.7 1400.0,500.0 C1402.6,533.3 1404.7,566.7 1407.0,600.0 C1409.3,633.3 1410.7,666.5 1413.7,700.0 C1416.7,733.5 1421.2,767.3 1425.0,801.0 C1428.8,834.7 1433.1,868.8 1436.4,902.0 C1439.7,935.2 1443.0,977.2 1444.6,1000.0 C1446.2,1022.8 1445.8,1032.5 1446.0,1039.0 Q1382,1056 1355,1089 C1354.7,1078.8 1354.2,1050.8 1353.0,1028.0 C1351.8,1005.2 1349.2,973.0 1348.0,952.0 C1346.8,931.0 1346.8,914.5 1345.5,902.0 C1344.2,889.5 1343.9,893.8 1340.5,877.0 C1337.1,860.2 1329.6,830.5 1325.0,801.0 C1320.4,771.5 1316.4,733.5 1312.7,700.0 C1309.0,666.5 1304.3,633.3 1302.7,600.0 C1301.1,566.7 1302.6,533.3 1303.0,500.0 C1303.4,466.7 1305.3,430.5 1305.0,400.0 C1304.7,369.5 1302.0,344.8 1301.0,317.0 C1300.0,289.2 1299.3,247.0 1299.0,233.0 Z" fill="url(#gBand)" stroke="#7d0b10" stroke-width="4.5" stroke-linejoin="round"/>
<path d="M1373,160 C1373.8,167.7 1375.8,179.8 1377.6,206.0 C1379.4,232.2 1381.7,284.7 1384.0,317.0 C1386.3,349.3 1388.6,369.5 1391.3,400.0 C1394.0,430.5 1397.4,466.7 1400.0,500.0 C1402.6,533.3 1404.7,566.7 1407.0,600.0 C1409.3,633.3 1410.7,666.5 1413.7,700.0 C1416.7,733.5 1421.2,767.3 1425.0,801.0 C1428.8,834.7 1433.1,868.8 1436.4,902.0 C1439.7,935.2 1443.0,977.2 1444.6,1000.0 C1446.2,1022.8 1445.8,1032.5 1446.0,1039.0 L1459.0,1049.0 C1458.8,1040.8 1459.2,1024.5 1458.0,1000.0 C1456.8,975.5 1454.6,935.2 1451.6,902.0 C1448.6,868.8 1442.9,834.7 1440.0,801.0 C1437.1,767.3 1437.2,733.5 1434.0,700.0 C1430.8,666.5 1424.3,633.3 1421.0,600.0 C1417.7,566.7 1416.3,533.3 1414.0,500.0 C1411.7,466.7 1408.7,423.0 1407.0,400.0 C1405.3,377.0 1405.2,383.2 1404.0,362.0 C1402.8,340.8 1401.5,301.5 1400.0,273.0 C1398.5,244.5 1397.8,209.0 1395.0,191.0 C1392.2,173.0 1385.0,169.3 1383.0,165.0 Z" fill="url(#gStrip)" stroke="#7d0b10" stroke-width="3.5" stroke-linejoin="round"/>
<ellipse cx="1860" cy="1071" rx="128" ry="50" transform="rotate(-6 1860 1071)" fill="url(#gRing)" stroke="#7d0b10" stroke-width="4.5"/>
<ellipse cx="1854" cy="1082" rx="91" ry="30" transform="rotate(-6 1854 1082)" fill="url(#gHole)" stroke="#7d0b10" stroke-width="3.5"/>
<path d="M1771,290 L1796,285 C1820,280 1858,262 1873,223 C1874.2,240.8 1877.8,300.5 1880.0,330.0 C1882.2,359.5 1883.7,383.5 1886.0,400.0 C1888.3,416.5 1888.3,409.7 1893.6,429.0 C1898.9,448.3 1912.0,487.5 1918.0,516.0 C1924.0,544.5 1926.9,569.3 1929.6,600.0 C1932.3,630.7 1933.3,666.7 1934.0,700.0 C1934.7,733.3 1933.7,766.7 1934.0,800.0 C1934.3,833.3 1934.8,866.7 1936.0,900.0 C1937.2,933.3 1939.2,972.3 1941.4,1000.0 C1943.7,1027.7 1948.2,1055.0 1949.5,1066.0 L1944.5,1072.5 L1944.0,1070.2 L1942.9,1067.9 L1941.3,1065.8 L1939.1,1063.7 L1936.4,1061.8 L1933.2,1060.0 L1929.5,1058.3 L1925.4,1056.8 L1920.8,1055.4 L1915.8,1054.2 L1910.4,1053.1 L1904.7,1052.3 L1898.6,1051.6 L1892.3,1051.1 L1885.7,1050.8 L1879.0,1050.7 L1872.1,1050.8 L1865.1,1051.0 L1858.0,1051.5 L1850.9,1052.2 L1843.8,1053.0 L1836.7,1054.0 L1833,1049 C1832.5,1040.8 1832.3,1024.8 1830.3,1000.0 C1828.3,975.2 1824.2,933.3 1821.0,900.0 C1817.8,866.7 1814.2,833.3 1811.0,800.0 C1807.8,766.7 1805.0,733.3 1802.0,700.0 C1799.0,666.7 1796.0,633.3 1793.3,600.0 C1790.6,566.7 1788.5,533.3 1786.0,500.0 C1783.5,466.7 1781.0,435.0 1778.5,400.0 C1776.0,365.0 1772.8,315.0 1771.0,290.0 C1769.2,265.0 1769.3,268.7 1768.0,250.0 C1766.7,231.3 1763.8,190.0 1763.0,178.0 Z" fill="url(#gLumenD)"/>
<path d="M1836.7,1054.0 L1843.8,1053.0 L1850.9,1052.2 L1858.0,1051.5 L1865.1,1051.0 L1872.1,1050.8 L1879.0,1050.7 L1885.7,1050.8 L1892.3,1051.1 L1898.6,1051.6 L1904.7,1052.3 L1910.4,1053.1 L1915.8,1054.2 L1920.8,1055.4 L1925.4,1056.8 L1929.5,1058.3 L1933.2,1060.0 L1936.4,1061.8 L1939.1,1063.7 L1941.3,1065.8 L1942.9,1067.9 L1944.0,1070.2 L1944.5,1072.5" fill="none" stroke="#7d0b10" stroke-width="3.5"/>
<path d="M1771,290 L1796,285 C1820,280 1858,262 1873,223" fill="none" stroke="#7d0b10" stroke-width="4.5"/>
<path d="M1782,150 L1838,150 L1846,268 L1830,277 L1808,284 L1789,286 Z" fill="url(#gGhostD)"/>
<path d="M1771,290 L1796,285 C1820,280 1858,262 1873,223" fill="none" stroke="#7d0b10" stroke-width="4.5"/>
<path d="M1789,289 L1799,400 L1810,500 L1820,600 L1829,700 L1837.7,800 L1842,850 L1850,986 L1836,986 L1883,1031 L1918,986 L1900,986 L1896,850 L1891,800 L1880,700 L1870,600 L1861,500 L1852.5,400 L1843,273 C1828,281 1810,286 1789,289 Z" fill="url(#gBandD)"/>
<path d="M1789,289 L1799,400 L1810,500 L1820,600 L1829,700 L1837.7,800 L1842,850 L1848,986 M1843,273 L1852.5,400 L1861,500 L1870,600 L1880,700 L1891,800 L1896,850 L1900,986" fill="none" stroke="#8e1a20" stroke-width="1.6" opacity="0.55"/>
<path d="M1850,986 L1836,986 L1883,1031 L1918,986 L1900,986" fill="none" stroke="#8a2a2a" stroke-width="2" stroke-linejoin="round"/>
<path d="M1781.0,396.0 C1783.3,399.8 1799.8,421.1 1800.4,428.8 C1801.1,436.4 1786.0,453.9 1786.7,461.6 C1787.4,469.2 1805.9,486.7 1806.5,494.4 C1807.1,502.0 1791.5,519.5 1792.1,527.1 C1792.7,534.8 1810.9,552.3 1811.5,559.9 C1812.1,567.6 1796.6,585.1 1797.1,592.7 C1797.7,600.4 1815.6,617.9 1816.1,625.5 C1816.7,633.1 1801.2,650.6 1801.7,658.3 C1802.2,665.9 1819.8,683.4 1820.3,691.1 C1820.8,698.7 1805.8,716.2 1806.3,723.9 C1806.8,731.5 1824.1,749.0 1824.7,756.6 C1825.4,764.3 1811.0,781.8 1811.6,789.4 C1812.1,797.1 1828.6,814.6 1829.5,822.2 C1830.4,829.9 1820.4,851.2 1819.2,855.0 M1810.7,396.0 C1813.4,399.8 1832.5,421.1 1833.7,428.8 C1834.8,436.4 1819.5,453.9 1820.3,461.6 C1821.1,469.2 1839.8,486.7 1840.4,494.4 C1841.1,502.0 1825.4,519.5 1826.0,527.1 C1826.5,534.8 1844.7,552.3 1845.2,559.9 C1845.8,567.6 1830.2,585.1 1830.7,592.7 C1831.2,600.4 1849.0,617.9 1849.4,625.5 C1849.9,633.1 1834.3,650.6 1834.7,658.3 C1835.1,665.9 1852.5,683.4 1852.9,691.1 C1853.4,698.7 1838.2,716.2 1838.6,723.9 C1839.0,731.5 1855.9,749.0 1856.4,756.6 C1856.8,764.3 1842.1,781.8 1842.5,789.4 C1842.9,797.1 1859.1,814.6 1859.8,822.2 C1860.4,829.9 1849.5,851.2 1848.1,855.0 M1810.7,396.0 C1809.5,399.8 1799.3,421.1 1800.4,428.8 C1801.6,436.4 1819.6,453.9 1820.3,461.6 C1821.0,469.2 1805.8,486.7 1806.5,494.4 C1807.1,502.0 1825.4,519.5 1826.0,527.1 C1826.6,534.8 1810.9,552.3 1811.5,559.9 C1812.0,567.6 1830.2,585.1 1830.7,592.7 C1831.3,600.4 1815.7,617.9 1816.1,625.5 C1816.6,633.1 1834.2,650.6 1834.7,658.3 C1835.2,665.9 1819.9,683.4 1820.3,691.1 C1820.8,698.7 1838.1,716.2 1838.6,723.9 C1839.1,731.5 1824.3,749.0 1824.7,756.6 C1825.2,764.3 1842.0,781.8 1842.5,789.4 C1843.1,797.1 1828.8,814.6 1829.5,822.2 C1830.1,829.9 1846.0,851.2 1848.1,855.0 M1840.3,396.0 C1843.4,399.8 1865.3,421.1 1866.9,428.8 C1868.5,436.4 1853.1,453.9 1854.0,461.6 C1854.8,469.2 1873.7,486.7 1874.4,494.4 C1875.1,502.0 1859.3,519.5 1859.9,527.1 C1860.4,534.8 1878.4,552.3 1879.0,559.9 C1879.5,567.6 1863.9,585.1 1864.3,592.7 C1864.8,600.4 1882.3,617.9 1882.7,625.5 C1883.1,633.1 1867.3,650.6 1867.7,658.3 C1868.0,665.9 1885.2,683.4 1885.6,691.1 C1885.9,698.7 1870.5,716.2 1870.8,723.9 C1871.1,731.5 1887.7,749.0 1888.0,756.6 C1888.3,764.3 1873.3,781.8 1873.5,789.4 C1873.8,797.1 1889.6,814.6 1890.0,822.2 C1890.5,829.9 1878.5,851.2 1877.0,855.0 M1840.3,396.0 C1839.6,399.8 1832.1,421.1 1833.7,428.8 C1835.3,436.4 1853.2,453.9 1854.0,461.6 C1854.8,469.2 1839.7,486.7 1840.4,494.4 C1841.1,502.0 1859.3,519.5 1859.9,527.1 C1860.4,534.8 1844.7,552.3 1845.2,559.9 C1845.7,567.6 1863.8,585.1 1864.3,592.7 C1864.8,600.4 1849.0,617.9 1849.4,625.5 C1849.8,633.1 1867.3,650.6 1867.7,658.3 C1868.1,665.9 1852.6,683.4 1852.9,691.1 C1853.3,698.7 1870.4,716.2 1870.8,723.9 C1871.2,731.5 1856.0,749.0 1856.4,756.6 C1856.7,764.3 1873.1,781.8 1873.5,789.4 C1873.9,797.1 1859.4,814.6 1859.8,822.2 C1860.2,829.9 1875.0,851.2 1877.0,855.0 M1870.0,396.0 C1869.6,399.8 1864.8,421.1 1866.9,428.8 C1868.9,436.4 1886.7,453.9 1887.6,461.6 C1888.5,469.2 1873.7,486.7 1874.4,494.4 C1875.1,502.0 1893.2,519.5 1893.7,527.1 C1894.3,534.8 1878.5,552.3 1879.0,559.9 C1879.5,567.6 1897.5,585.1 1897.9,592.7 C1898.4,600.4 1882.4,617.9 1882.7,625.5 C1883.0,633.1 1900.3,650.6 1900.6,658.3 C1901.0,665.9 1885.3,683.4 1885.6,691.1 C1885.9,698.7 1902.8,716.2 1903.1,723.9 C1903.4,731.5 1887.8,749.0 1888.0,756.6 C1888.1,764.3 1904.2,781.8 1904.5,789.4 C1904.7,797.1 1889.9,814.6 1890.0,822.2 C1890.2,829.9 1904.0,851.2 1905.9,855.0" fill="none" stroke="#9a5a66" stroke-width="7" transform="translate(6,5)" stroke-linecap="round" opacity="0.45"/><path d="M1781.0,396.0 C1783.3,399.8 1799.8,421.1 1800.4,428.8 C1801.1,436.4 1786.0,453.9 1786.7,461.6 C1787.4,469.2 1805.9,486.7 1806.5,494.4 C1807.1,502.0 1791.5,519.5 1792.1,527.1 C1792.7,534.8 1810.9,552.3 1811.5,559.9 C1812.1,567.6 1796.6,585.1 1797.1,592.7 C1797.7,600.4 1815.6,617.9 1816.1,625.5 C1816.7,633.1 1801.2,650.6 1801.7,658.3 C1802.2,665.9 1819.8,683.4 1820.3,691.1 C1820.8,698.7 1805.8,716.2 1806.3,723.9 C1806.8,731.5 1824.1,749.0 1824.7,756.6 C1825.4,764.3 1811.0,781.8 1811.6,789.4 C1812.1,797.1 1828.6,814.6 1829.5,822.2 C1830.4,829.9 1820.4,851.2 1819.2,855.0 M1810.7,396.0 C1813.4,399.8 1832.5,421.1 1833.7,428.8 C1834.8,436.4 1819.5,453.9 1820.3,461.6 C1821.1,469.2 1839.8,486.7 1840.4,494.4 C1841.1,502.0 1825.4,519.5 1826.0,527.1 C1826.5,534.8 1844.7,552.3 1845.2,559.9 C1845.8,567.6 1830.2,585.1 1830.7,592.7 C1831.2,600.4 1849.0,617.9 1849.4,625.5 C1849.9,633.1 1834.3,650.6 1834.7,658.3 C1835.1,665.9 1852.5,683.4 1852.9,691.1 C1853.4,698.7 1838.2,716.2 1838.6,723.9 C1839.0,731.5 1855.9,749.0 1856.4,756.6 C1856.8,764.3 1842.1,781.8 1842.5,789.4 C1842.9,797.1 1859.1,814.6 1859.8,822.2 C1860.4,829.9 1849.5,851.2 1848.1,855.0 M1810.7,396.0 C1809.5,399.8 1799.3,421.1 1800.4,428.8 C1801.6,436.4 1819.6,453.9 1820.3,461.6 C1821.0,469.2 1805.8,486.7 1806.5,494.4 C1807.1,502.0 1825.4,519.5 1826.0,527.1 C1826.6,534.8 1810.9,552.3 1811.5,559.9 C1812.0,567.6 1830.2,585.1 1830.7,592.7 C1831.3,600.4 1815.7,617.9 1816.1,625.5 C1816.6,633.1 1834.2,650.6 1834.7,658.3 C1835.2,665.9 1819.9,683.4 1820.3,691.1 C1820.8,698.7 1838.1,716.2 1838.6,723.9 C1839.1,731.5 1824.3,749.0 1824.7,756.6 C1825.2,764.3 1842.0,781.8 1842.5,789.4 C1843.1,797.1 1828.8,814.6 1829.5,822.2 C1830.1,829.9 1846.0,851.2 1848.1,855.0 M1840.3,396.0 C1843.4,399.8 1865.3,421.1 1866.9,428.8 C1868.5,436.4 1853.1,453.9 1854.0,461.6 C1854.8,469.2 1873.7,486.7 1874.4,494.4 C1875.1,502.0 1859.3,519.5 1859.9,527.1 C1860.4,534.8 1878.4,552.3 1879.0,559.9 C1879.5,567.6 1863.9,585.1 1864.3,592.7 C1864.8,600.4 1882.3,617.9 1882.7,625.5 C1883.1,633.1 1867.3,650.6 1867.7,658.3 C1868.0,665.9 1885.2,683.4 1885.6,691.1 C1885.9,698.7 1870.5,716.2 1870.8,723.9 C1871.1,731.5 1887.7,749.0 1888.0,756.6 C1888.3,764.3 1873.3,781.8 1873.5,789.4 C1873.8,797.1 1889.6,814.6 1890.0,822.2 C1890.5,829.9 1878.5,851.2 1877.0,855.0 M1840.3,396.0 C1839.6,399.8 1832.1,421.1 1833.7,428.8 C1835.3,436.4 1853.2,453.9 1854.0,461.6 C1854.8,469.2 1839.7,486.7 1840.4,494.4 C1841.1,502.0 1859.3,519.5 1859.9,527.1 C1860.4,534.8 1844.7,552.3 1845.2,559.9 C1845.7,567.6 1863.8,585.1 1864.3,592.7 C1864.8,600.4 1849.0,617.9 1849.4,625.5 C1849.8,633.1 1867.3,650.6 1867.7,658.3 C1868.1,665.9 1852.6,683.4 1852.9,691.1 C1853.3,698.7 1870.4,716.2 1870.8,723.9 C1871.2,731.5 1856.0,749.0 1856.4,756.6 C1856.7,764.3 1873.1,781.8 1873.5,789.4 C1873.9,797.1 1859.4,814.6 1859.8,822.2 C1860.2,829.9 1875.0,851.2 1877.0,855.0 M1870.0,396.0 C1869.6,399.8 1864.8,421.1 1866.9,428.8 C1868.9,436.4 1886.7,453.9 1887.6,461.6 C1888.5,469.2 1873.7,486.7 1874.4,494.4 C1875.1,502.0 1893.2,519.5 1893.7,527.1 C1894.3,534.8 1878.5,552.3 1879.0,559.9 C1879.5,567.6 1897.5,585.1 1897.9,592.7 C1898.4,600.4 1882.4,617.9 1882.7,625.5 C1883.0,633.1 1900.3,650.6 1900.6,658.3 C1901.0,665.9 1885.3,683.4 1885.6,691.1 C1885.9,698.7 1902.8,716.2 1903.1,723.9 C1903.4,731.5 1887.8,749.0 1888.0,756.6 C1888.1,764.3 1904.2,781.8 1904.5,789.4 C1904.7,797.1 1889.9,814.6 1890.0,822.2 C1890.2,829.9 1904.0,851.2 1905.9,855.0" fill="none" stroke="#1d5c9a" stroke-width="4" stroke-linecap="round" stroke-linejoin="round"/>
<path d="M1886.4,426.0 L1883.5,458.0 L1890.0,520.0 L1898.0,574.0 L1903.8,690.0 L1907.0,718.0 L1910.0,807.0 L1918.0,833.0 L1929.0,843.0 L1931.0,837.0 L1934.0,760.0 L1935.7,680.0 L1929.6,580.0 L1918.0,516.0 L1893.6,429.0 Z" fill="#eecb62"/>
<path d="M1886.4,426.0 L1883.5,458.0 L1890.0,520.0 L1898.0,574.0 L1903.8,690.0 L1907.0,718.0 L1910.0,807.0 L1918.0,833.0 L1929.0,843.0" fill="none" stroke="#9c9a1c" stroke-width="3"/>
<path d="M1873,223 L1890,218 L1909.5,216 C1910.6,238.8 1913.2,322.3 1916.0,353.0 C1918.8,383.7 1922.6,383.3 1926.5,400.0 C1930.4,416.7 1934.6,428.8 1939.5,453.0 C1944.4,477.2 1951.8,520.5 1956.0,545.0 C1960.2,569.5 1963.0,574.2 1965.0,600.0 C1967.0,625.8 1967.2,666.7 1968.0,700.0 C1968.8,733.3 1968.5,766.7 1969.5,800.0 C1970.5,833.3 1972.2,866.7 1974.0,900.0 C1975.8,933.3 1977.8,973.0 1980.0,1000.0 C1982.2,1027.0 1985.8,1051.7 1987.0,1062.0 L1949.5,1066 C1948.2,1055.0 1943.7,1027.7 1941.4,1000.0 C1939.2,972.3 1937.2,933.3 1936.0,900.0 C1934.8,866.7 1934.3,833.3 1934.0,800.0 C1933.7,766.7 1934.7,733.3 1934.0,700.0 C1933.3,666.7 1932.3,630.7 1929.6,600.0 C1926.9,569.3 1924.0,544.5 1918.0,516.0 C1912.0,487.5 1898.9,448.3 1893.6,429.0 C1888.3,409.7 1888.3,416.5 1886.0,400.0 C1883.7,383.5 1882.2,359.5 1880.0,330.0 C1877.8,300.5 1874.2,240.8 1873.0,223.0 Z" fill="url(#gRight)" stroke="#7d0b10" stroke-width="4.5" stroke-linejoin="round"/>
<path d="M1673,230 C1680,190 1710,165 1751.5,161 C1752.6,175.8 1756.2,221.8 1758.0,250.0 C1759.8,278.2 1760.6,305.0 1762.0,330.0 C1763.4,355.0 1764.9,371.7 1766.6,400.0 C1768.3,428.3 1770.0,466.7 1772.0,500.0 C1774.0,533.3 1775.8,566.7 1778.5,600.0 C1781.2,633.3 1784.5,666.7 1788.0,700.0 C1791.5,733.3 1795.5,766.7 1799.2,800.0 C1802.9,833.3 1806.5,866.7 1810.0,900.0 C1813.5,933.3 1818.2,977.3 1820.0,1000.0 C1821.8,1022.7 1820.8,1030.0 1821.0,1036.0 Q1759,1050 1733,1079 C1731.5,1065.8 1727.2,1029.8 1723.7,1000.0 C1720.2,970.2 1716.5,933.3 1712.0,900.0 C1707.5,866.7 1702.3,833.3 1697.0,800.0 C1691.7,766.7 1683.7,733.3 1680.0,700.0 C1676.3,666.7 1675.5,626.7 1674.8,600.0 C1674.1,573.3 1674.6,564.5 1676.0,540.0 C1677.4,515.5 1682.0,476.3 1683.0,453.0 C1684.0,429.7 1682.7,416.7 1682.2,400.0 C1681.7,383.3 1681.5,381.3 1680.0,353.0 C1678.5,324.7 1674.2,250.5 1673.0,230.0 Z" fill="url(#gBand)" stroke="#7d0b10" stroke-width="4.5" stroke-linejoin="round"/>
<path d="M1751.5,161 C1752.6,175.8 1756.2,221.8 1758.0,250.0 C1759.8,278.2 1760.6,305.0 1762.0,330.0 C1763.4,355.0 1764.9,371.7 1766.6,400.0 C1768.3,428.3 1770.0,466.7 1772.0,500.0 C1774.0,533.3 1775.8,566.7 1778.5,600.0 C1781.2,633.3 1784.5,666.7 1788.0,700.0 C1791.5,733.3 1795.5,766.7 1799.2,800.0 C1802.9,833.3 1806.5,866.7 1810.0,900.0 C1813.5,933.3 1818.2,977.3 1820.0,1000.0 C1821.8,1022.7 1820.8,1030.0 1821.0,1036.0 L1833.0,1049.0 C1832.5,1040.8 1832.3,1024.8 1830.3,1000.0 C1828.3,975.2 1824.2,933.3 1821.0,900.0 C1817.8,866.7 1814.2,833.3 1811.0,800.0 C1807.8,766.7 1805.0,733.3 1802.0,700.0 C1799.0,666.7 1796.0,633.3 1793.3,600.0 C1790.6,566.7 1788.5,533.3 1786.0,500.0 C1783.5,466.7 1781.0,435.0 1778.5,400.0 C1776.0,365.0 1772.8,315.0 1771.0,290.0 C1769.2,265.0 1769.3,268.7 1768.0,250.0 C1766.7,231.3 1763.8,190.0 1763.0,178.0 Z" fill="url(#gStrip)" stroke="#7d0b10" stroke-width="3.5" stroke-linejoin="round"/>
<path d="M1320,375 C1318,395 1317,410 1316,430 M1338,880 C1346,905 1352,925 1358,945 M1696,290 C1693,330 1691,370 1690,403 M1716,926 C1724,950 1732,970 1740,990" fill="none" stroke="#8a1218" stroke-width="2.2" opacity="0.8"/>
<ellipse cx="1157.5" cy="1298" rx="154" ry="152" fill="url(#gXsWall)" stroke="#7d0b10" stroke-width="5"/>
<ellipse cx="1160.5" cy="1295" rx="107.5" ry="109" fill="url(#gXsLumen)" stroke="#7d0b10" stroke-width="4.5"/>
<path d="M1110.4,1203.0 C1113.0,1205.0 1120.2,1210.8 1126.0,1215.0 C1131.8,1219.2 1139.0,1224.1 1145.0,1228.0 C1151.0,1231.9 1158.6,1235.5 1161.7,1238.6 C1164.8,1241.7 1163.6,1239.9 1163.6,1246.5 C1163.6,1253.1 1161.4,1267.8 1161.7,1278.0 C1162.0,1288.2 1163.3,1298.8 1165.6,1307.6 C1167.9,1316.4 1174.2,1322.8 1175.5,1331.0 C1176.8,1339.2 1175.5,1349.4 1173.5,1357.0 C1171.5,1364.6 1167.5,1370.0 1163.6,1376.6 C1159.7,1383.1 1152.3,1393.0 1150.0,1396.3 L1149.5,1401.4 L1159.3,1402.0 L1169.1,1401.6 L1178.9,1400.3 L1188.5,1398.1 L1197.9,1395.0 L1206.9,1391.0 L1215.5,1386.1 L1223.7,1380.5 L1231.2,1374.1 L1238.2,1367.0 L1244.5,1359.2 L1250.0,1350.9 L1254.8,1342.1 L1258.7,1332.9 L1261.7,1323.4 L1263.9,1313.6 L1265.2,1303.6 L1265.5,1293.6 L1264.9,1283.6 L1263.4,1273.7 L1261.0,1263.9 L1257.7,1254.5 L1253.5,1245.4 L1248.6,1236.7 L1242.8,1228.6 L1236.3,1221.0 L1229.2,1214.1 L1221.5,1207.9 L1213.2,1202.4 L1204.4,1197.8 L1195.3,1194.1 L1185.9,1191.2 L1176.2,1189.2 L1166.4,1188.2 L1156.6,1188.1 L1146.8,1188.9 L1137.1,1190.7 L1127.6,1193.4 L1118.4,1197.0 L1109.6,1201.4 Z" fill="url(#gXsPlaque)"/>
<path d="M1110.4,1203.0 C1113.0,1205.0 1120.2,1210.8 1126.0,1215.0 C1131.8,1219.2 1139.0,1224.1 1145.0,1228.0 C1151.0,1231.9 1158.6,1235.5 1161.7,1238.6 C1164.8,1241.7 1163.6,1239.9 1163.6,1246.5 C1163.6,1253.1 1161.4,1267.8 1161.7,1278.0 C1162.0,1288.2 1163.3,1298.8 1165.6,1307.6 C1167.9,1316.4 1174.2,1322.8 1175.5,1331.0 C1176.8,1339.2 1175.5,1349.4 1173.5,1357.0 C1171.5,1364.6 1167.5,1370.0 1163.6,1376.6 C1159.7,1383.1 1152.3,1393.0 1150.0,1396.3" fill="none" stroke="#8f8f16" stroke-width="4"/>
<path d="M1161.7,1238.6 L1174,1246" stroke="#8f8f16" stroke-width="3"/>
<ellipse cx="1160.5" cy="1295" rx="107.5" ry="109" fill="none" stroke="#7d0b10" stroke-width="4.5"/>
<circle cx="1113.4" cy="1299.7" r="39" fill="#1d5a9c"/>
<circle cx="1113.4" cy="1299.7" r="33" fill="#3e78b8"/>
<circle cx="1113.4" cy="1299.7" r="28" fill="#1d5a9c"/>
<circle cx="1113.4" cy="1299.7" r="24.5" fill="url(#gXsCath)"/>
<circle cx="1113.9" cy="1300.2" r="12" fill="#9a9ca6"/>
<circle cx="1113.9" cy="1300.2" r="6" fill="#b5b8c0"/>
<ellipse cx="2020.7" cy="1298.7" rx="162" ry="161" fill="url(#gXsWall)" stroke="#7d0b10" stroke-width="5"/>
<ellipse cx="2026.5" cy="1296" rx="116.8" ry="124" fill="url(#gXsPlaque)" stroke="#7d0b10" stroke-width="4.5"/>
<path d="M2106.6,1320.2 L2097.6,1345.2 L2091.0,1371.4 L2069.5,1384.6 L2049.7,1400.3 L2025.5,1404.2 L2001.6,1411.1 L1980.3,1397.3 L1958.1,1386.2 L1942.9,1365.1 L1925.5,1345.8 L1925.8,1318.6 L1923.4,1291.8 L1932.4,1266.8 L1939.0,1240.6 L1960.5,1227.4 L1980.3,1211.7 L2004.5,1207.8 L2028.4,1200.9 L2049.7,1214.7 L2071.9,1225.8 L2087.1,1246.9 L2104.5,1266.2 L2104.2,1293.4 Z" fill="url(#gXsLumenD)" stroke="#2a62a0" stroke-width="13" stroke-linejoin="round"/>
<path d="M2106.6,1320.2 L2097.6,1345.2 L2091.0,1371.4 L2069.5,1384.6 L2049.7,1400.3 L2025.5,1404.2 L2001.6,1411.1 L1980.3,1397.3 L1958.1,1386.2 L1942.9,1365.1 L1925.5,1345.8 L1925.8,1318.6 L1923.4,1291.8 L1932.4,1266.8 L1939.0,1240.6 L1960.5,1227.4 L1980.3,1211.7 L2004.5,1207.8 L2028.4,1200.9 L2049.7,1214.7 L2071.9,1225.8 L2087.1,1246.9 L2104.5,1266.2 L2104.2,1293.4 Z" fill="none" stroke="#4a86c0" stroke-width="4.5" stroke-linejoin="round"/>
<circle cx="142" cy="140" r="24" fill="#000"/>
<text x="142" y="152.5" font-size="35" fill="#fff" text-anchor="middle" font-family="Liberation Sans, sans-serif">A</text>
<circle cx="732" cy="140" r="24" fill="#000"/>
<text x="732" y="152.5" font-size="35" fill="#fff" text-anchor="middle" font-family="Liberation Sans, sans-serif">B</text>
<circle cx="1287" cy="140" r="24" fill="#000"/>
<text x="1287" y="152.5" font-size="35" fill="#fff" text-anchor="middle" font-family="Liberation Sans, sans-serif">C</text>
<circle cx="1665" cy="140" r="24" fill="#000"/>
<text x="1665" y="152.5" font-size="35" fill="#fff" text-anchor="middle" font-family="Liberation Sans, sans-serif">D</text>
<path d="M888,175 L1051,175" fill="none" stroke="#111" stroke-width="2.6"/>
<path d="M946,175 L884.5,253" fill="none" stroke="#111" stroke-width="2.6"/>
<path d="M978,269.6 L1051,269.6" fill="none" stroke="#111" stroke-width="2.6"/>
<path d="M889.7,412 L1051,412" fill="none" stroke="#111" stroke-width="2.6"/>
<path d="M964.6,530 L1051,530" fill="none" stroke="#111" stroke-width="2.6"/>
<path d="M1240.8,630.5 L1469,630.5" fill="none" stroke="#111" stroke-width="2.6"/>
<path d="M1304.8,923.7 L1481,923.7" fill="none" stroke="#111" stroke-width="2.6"/>
<path d="M565.5,797.5 L789.8,698" fill="none" stroke="#111" stroke-width="2.6"/>
<path d="M703.5,787.6 L782,787.6" fill="none" stroke="#111" stroke-width="2.6"/>
<path d="M1046,785.6 L1112,785.6 L1112,1008" fill="none" stroke="#111" stroke-width="3"/>
<path d="M1103,1003 L1121,1003 L1112,1019 Z" fill="#111"/>
<path d="M1619,647 L1674,647" fill="none" stroke="#111" stroke-width="2.6"/>
<path d="M1972.8,645.8 L2065.5,645.8 L2066.5,1062" fill="none" stroke="#111" stroke-width="3"/>
<path d="M2057.5,1058 L2075.5,1058 L2066.5,1074 Z" fill="#111"/>
<path d="M1681.5,1150 L1681.5,1040 L1874.6,961" fill="none" stroke="#111" stroke-width="2.6"/>
<path d="M1976.8,293 L1904.6,340" fill="none" stroke="#111" stroke-width="2.6"/>
<path d="M1976.8,456 L1909,534" fill="none" stroke="#111" stroke-width="2.6"/>
<path d="M1134,1123.6 L1108,1245" fill="none" stroke="#111" stroke-width="2.2"/>
<path d="M953,1417 L1087,1314" fill="none" stroke="#111" stroke-width="2.2"/>
<path d="M1204,1341.4 L1244,1469" fill="none" stroke="#111" stroke-width="2.2"/>
<path d="M2127.8,1141 L2048.4,1217" fill="none" stroke="#111" stroke-width="2.2"/>
<path d="M2112,1351.6 L2093,1489.6" fill="none" stroke="#111" stroke-width="2.2"/>
<path d="M449.6,790 L474,915.7 L540.8,839" fill="none" stroke="#111" stroke-width="2.2"/>
<g font-family="Liberation Sans, sans-serif" fill="#0a0a0a"><text x="119" y="226" font-size="40" textLength="162.7" lengthAdjust="spacingAndGlyphs" >Coronary</text>
<text x="119" y="273" font-size="40" textLength="126.8" lengthAdjust="spacingAndGlyphs" >arteries</text>
<text x="119" y="320" font-size="40" textLength="128.6" lengthAdjust="spacingAndGlyphs" >located</text>
<text x="119" y="366.5" font-size="40" textLength="112" lengthAdjust="spacingAndGlyphs" >on the</text>
<text x="119" y="413" font-size="40" textLength="125" lengthAdjust="spacingAndGlyphs" >surface</text>
<text x="119" y="460" font-size="40" textLength="99.8" lengthAdjust="spacingAndGlyphs" >of the</text>
<text x="119" y="507" font-size="40" textLength="88.7" lengthAdjust="spacingAndGlyphs" >heart</text>
<text x="1064.4" y="188.8" font-size="40" textLength="161.6" lengthAdjust="spacingAndGlyphs" >Catheters</text>
<text x="1064.4" y="283" font-size="40" textLength="161.4" lengthAdjust="spacingAndGlyphs" >Coronary</text>
<text x="1064.4" y="330" font-size="40" textLength="98.2" lengthAdjust="spacingAndGlyphs" >artery</text>
<text x="1064.4" y="424.4" font-size="40" textLength="118" lengthAdjust="spacingAndGlyphs" >Closed</text>
<text x="1064.4" y="472.6" font-size="40" textLength="80" lengthAdjust="spacingAndGlyphs" >stent</text>
<text x="1062.7" y="542.5" font-size="40" textLength="118" lengthAdjust="spacingAndGlyphs" >Plaque</text>
<text x="1064.4" y="641.5" font-size="40" textLength="171.4" lengthAdjust="spacingAndGlyphs" >Expanded</text>
<text x="1064.4" y="689.8" font-size="40" textLength="85" lengthAdjust="spacingAndGlyphs" >Stent</text>
<text x="1164" y="932.7" font-size="40" textLength="134" lengthAdjust="spacingAndGlyphs" >Balloon</text>
<text x="1095.4" y="1069" font-size="40" textLength="176" lengthAdjust="spacingAndGlyphs" >Narrowed</text>
<text x="1095.4" y="1115" font-size="40" textLength="98.4" lengthAdjust="spacingAndGlyphs" >artery</text>
<text x="883" y="1452.5" font-size="40" textLength="120" lengthAdjust="spacingAndGlyphs" >Closed</text>
<text x="883" y="1500.6" font-size="40" textLength="217.8" lengthAdjust="spacingAndGlyphs" >stent around</text>
<text x="883" y="1546.7" font-size="40" textLength="286.5" lengthAdjust="spacingAndGlyphs" >balloon catheter</text>
<text x="1184.6" y="1507" font-size="40" textLength="120" lengthAdjust="spacingAndGlyphs" >Plaque</text>
<text x="913" y="1613.7" font-size="38" textLength="356" lengthAdjust="spacingAndGlyphs" font-weight="bold" font-style="italic">Artery cross-section</text>
<text x="1594" y="1181.6" font-size="40" textLength="166" lengthAdjust="spacingAndGlyphs" >Increased</text>
<text x="1594" y="1228.6" font-size="40" textLength="189.4" lengthAdjust="spacingAndGlyphs" >blood flow</text>
<text x="1996" y="303" font-size="40" textLength="86" lengthAdjust="spacingAndGlyphs" >Stent</text>
<text x="1996" y="349.6" font-size="40" textLength="151.4" lengthAdjust="spacingAndGlyphs" >widened</text>
<text x="1996" y="396" font-size="40" textLength="98" lengthAdjust="spacingAndGlyphs" >artery</text>
<text x="1988.4" y="466" font-size="40" textLength="214.6" lengthAdjust="spacingAndGlyphs" >Compressed</text>
<text x="1988.4" y="512.7" font-size="40" textLength="119" lengthAdjust="spacingAndGlyphs" >plaque</text>
<text x="2074.3" y="1124" font-size="40" textLength="85.3" lengthAdjust="spacingAndGlyphs" >Stent</text>
<text x="1938" y="1303.9" font-size="39" textLength="148" lengthAdjust="spacingAndGlyphs" >Widened</text>
<text x="1938" y="1345.7" font-size="39" textLength="88" lengthAdjust="spacingAndGlyphs" >artery</text>
<text x="1924.2" y="1520.7" font-size="40" textLength="214" lengthAdjust="spacingAndGlyphs" >Compressed</text>
<text x="1924.2" y="1567" font-size="40" textLength="119" lengthAdjust="spacingAndGlyphs" >plaque</text>
<text x="385.6" y="950" font-size="40" textLength="160" lengthAdjust="spacingAndGlyphs" >Coronary</text>
<text x="385.6" y="997" font-size="40" textLength="125.6" lengthAdjust="spacingAndGlyphs" >arteries</text></g>
</svg>
</body></html>
